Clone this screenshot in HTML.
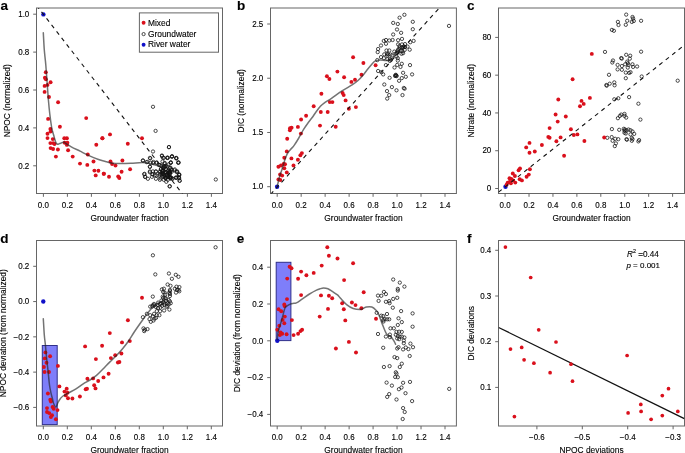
<!DOCTYPE html><html><head><meta charset="utf-8"><style>html,body{margin:0;padding:0;background:#fff;width:685px;height:453px;overflow:hidden}svg{display:block;will-change:transform}text{font-family:"Liberation Sans",sans-serif;fill:#000;stroke:#000;stroke-width:0.12px}</style></head><body>
<svg width="685" height="453" viewBox="0 0 685 453">
<rect x="36.5" y="8.0" width="186.00" height="185.50" fill="none" stroke="#666666" stroke-width="1.0"/>
<line x1="43.40" y1="193.5" x2="43.40" y2="196.80" stroke="#666666" stroke-width="1.0"/>
<text transform="translate(43.40,207.60) scale(1,1.07)" text-anchor="middle" font-size="8.0" >0.0</text>
<line x1="67.40" y1="193.5" x2="67.40" y2="196.80" stroke="#666666" stroke-width="1.0"/>
<text transform="translate(67.40,207.60) scale(1,1.07)" text-anchor="middle" font-size="8.0" >0.2</text>
<line x1="91.40" y1="193.5" x2="91.40" y2="196.80" stroke="#666666" stroke-width="1.0"/>
<text transform="translate(91.40,207.60) scale(1,1.07)" text-anchor="middle" font-size="8.0" >0.4</text>
<line x1="115.40" y1="193.5" x2="115.40" y2="196.80" stroke="#666666" stroke-width="1.0"/>
<text transform="translate(115.40,207.60) scale(1,1.07)" text-anchor="middle" font-size="8.0" >0.6</text>
<line x1="139.40" y1="193.5" x2="139.40" y2="196.80" stroke="#666666" stroke-width="1.0"/>
<text transform="translate(139.40,207.60) scale(1,1.07)" text-anchor="middle" font-size="8.0" >0.8</text>
<line x1="163.40" y1="193.5" x2="163.40" y2="196.80" stroke="#666666" stroke-width="1.0"/>
<text transform="translate(163.40,207.60) scale(1,1.07)" text-anchor="middle" font-size="8.0" >1.0</text>
<line x1="187.40" y1="193.5" x2="187.40" y2="196.80" stroke="#666666" stroke-width="1.0"/>
<text transform="translate(187.40,207.60) scale(1,1.07)" text-anchor="middle" font-size="8.0" >1.2</text>
<line x1="211.40" y1="193.5" x2="211.40" y2="196.80" stroke="#666666" stroke-width="1.0"/>
<text transform="translate(211.40,207.60) scale(1,1.07)" text-anchor="middle" font-size="8.0" >1.4</text>
<line x1="33.20" y1="165.80" x2="36.5" y2="165.80" stroke="#666666" stroke-width="1.0"/>
<text transform="translate(29.30,168.55) scale(1,1.07)" text-anchor="end" font-size="8.0" >0.2</text>
<line x1="33.20" y1="127.90" x2="36.5" y2="127.90" stroke="#666666" stroke-width="1.0"/>
<text transform="translate(29.30,130.65) scale(1,1.07)" text-anchor="end" font-size="8.0" >0.4</text>
<line x1="33.20" y1="90.00" x2="36.5" y2="90.00" stroke="#666666" stroke-width="1.0"/>
<text transform="translate(29.30,92.75) scale(1,1.07)" text-anchor="end" font-size="8.0" >0.6</text>
<line x1="33.20" y1="52.10" x2="36.5" y2="52.10" stroke="#666666" stroke-width="1.0"/>
<text transform="translate(29.30,54.85) scale(1,1.07)" text-anchor="end" font-size="8.0" >0.8</text>
<line x1="33.20" y1="14.20" x2="36.5" y2="14.20" stroke="#666666" stroke-width="1.0"/>
<text transform="translate(29.30,16.95) scale(1,1.07)" text-anchor="end" font-size="8.0" >1.0</text>
<text x="129.50" y="220.80" text-anchor="middle" font-size="8.4" >Groundwater fraction</text>
<text transform="translate(9.60,100.75) rotate(-90)" text-anchor="middle" font-size="8.4">NPOC (normalized)</text>
<text x="0.5" y="9.7" font-size="13.5" font-weight="bold" fill="#000">a</text>
<rect x="270.5" y="8.0" width="185.90" height="185.50" fill="none" stroke="#666666" stroke-width="1.0"/>
<line x1="277.20" y1="193.5" x2="277.20" y2="196.80" stroke="#666666" stroke-width="1.0"/>
<text transform="translate(277.20,207.60) scale(1,1.07)" text-anchor="middle" font-size="8.0" >0.0</text>
<line x1="301.17" y1="193.5" x2="301.17" y2="196.80" stroke="#666666" stroke-width="1.0"/>
<text transform="translate(301.17,207.60) scale(1,1.07)" text-anchor="middle" font-size="8.0" >0.2</text>
<line x1="325.14" y1="193.5" x2="325.14" y2="196.80" stroke="#666666" stroke-width="1.0"/>
<text transform="translate(325.14,207.60) scale(1,1.07)" text-anchor="middle" font-size="8.0" >0.4</text>
<line x1="349.11" y1="193.5" x2="349.11" y2="196.80" stroke="#666666" stroke-width="1.0"/>
<text transform="translate(349.11,207.60) scale(1,1.07)" text-anchor="middle" font-size="8.0" >0.6</text>
<line x1="373.09" y1="193.5" x2="373.09" y2="196.80" stroke="#666666" stroke-width="1.0"/>
<text transform="translate(373.09,207.60) scale(1,1.07)" text-anchor="middle" font-size="8.0" >0.8</text>
<line x1="397.06" y1="193.5" x2="397.06" y2="196.80" stroke="#666666" stroke-width="1.0"/>
<text transform="translate(397.06,207.60) scale(1,1.07)" text-anchor="middle" font-size="8.0" >1.0</text>
<line x1="421.03" y1="193.5" x2="421.03" y2="196.80" stroke="#666666" stroke-width="1.0"/>
<text transform="translate(421.03,207.60) scale(1,1.07)" text-anchor="middle" font-size="8.0" >1.2</text>
<line x1="445.00" y1="193.5" x2="445.00" y2="196.80" stroke="#666666" stroke-width="1.0"/>
<text transform="translate(445.00,207.60) scale(1,1.07)" text-anchor="middle" font-size="8.0" >1.4</text>
<line x1="267.20" y1="186.70" x2="270.5" y2="186.70" stroke="#666666" stroke-width="1.0"/>
<text transform="translate(263.30,189.45) scale(1,1.07)" text-anchor="end" font-size="8.0" >1.0</text>
<line x1="267.20" y1="132.47" x2="270.5" y2="132.47" stroke="#666666" stroke-width="1.0"/>
<text transform="translate(263.30,135.22) scale(1,1.07)" text-anchor="end" font-size="8.0" >1.5</text>
<line x1="267.20" y1="78.23" x2="270.5" y2="78.23" stroke="#666666" stroke-width="1.0"/>
<text transform="translate(263.30,80.98) scale(1,1.07)" text-anchor="end" font-size="8.0" >2.0</text>
<line x1="267.20" y1="24.00" x2="270.5" y2="24.00" stroke="#666666" stroke-width="1.0"/>
<text transform="translate(263.30,26.75) scale(1,1.07)" text-anchor="end" font-size="8.0" >2.5</text>
<text x="363.45" y="220.80" text-anchor="middle" font-size="8.4" >Groundwater fraction</text>
<text transform="translate(243.60,100.75) rotate(-90)" text-anchor="middle" font-size="8.4">DIC (normalized)</text>
<text x="236.9" y="9.7" font-size="13.5" font-weight="bold" fill="#000">b</text>
<rect x="498.5" y="8.0" width="186.00" height="185.50" fill="none" stroke="#666666" stroke-width="1.0"/>
<line x1="505.10" y1="193.5" x2="505.10" y2="196.80" stroke="#666666" stroke-width="1.0"/>
<text transform="translate(505.10,207.60) scale(1,1.07)" text-anchor="middle" font-size="8.0" >0.0</text>
<line x1="529.03" y1="193.5" x2="529.03" y2="196.80" stroke="#666666" stroke-width="1.0"/>
<text transform="translate(529.03,207.60) scale(1,1.07)" text-anchor="middle" font-size="8.0" >0.2</text>
<line x1="552.96" y1="193.5" x2="552.96" y2="196.80" stroke="#666666" stroke-width="1.0"/>
<text transform="translate(552.96,207.60) scale(1,1.07)" text-anchor="middle" font-size="8.0" >0.4</text>
<line x1="576.89" y1="193.5" x2="576.89" y2="196.80" stroke="#666666" stroke-width="1.0"/>
<text transform="translate(576.89,207.60) scale(1,1.07)" text-anchor="middle" font-size="8.0" >0.6</text>
<line x1="600.81" y1="193.5" x2="600.81" y2="196.80" stroke="#666666" stroke-width="1.0"/>
<text transform="translate(600.81,207.60) scale(1,1.07)" text-anchor="middle" font-size="8.0" >0.8</text>
<line x1="624.74" y1="193.5" x2="624.74" y2="196.80" stroke="#666666" stroke-width="1.0"/>
<text transform="translate(624.74,207.60) scale(1,1.07)" text-anchor="middle" font-size="8.0" >1.0</text>
<line x1="648.67" y1="193.5" x2="648.67" y2="196.80" stroke="#666666" stroke-width="1.0"/>
<text transform="translate(648.67,207.60) scale(1,1.07)" text-anchor="middle" font-size="8.0" >1.2</text>
<line x1="672.60" y1="193.5" x2="672.60" y2="196.80" stroke="#666666" stroke-width="1.0"/>
<text transform="translate(672.60,207.60) scale(1,1.07)" text-anchor="middle" font-size="8.0" >1.4</text>
<line x1="495.20" y1="188.50" x2="498.5" y2="188.50" stroke="#666666" stroke-width="1.0"/>
<text transform="translate(491.30,191.25) scale(1,1.07)" text-anchor="end" font-size="8.0" >0</text>
<line x1="495.20" y1="150.72" x2="498.5" y2="150.72" stroke="#666666" stroke-width="1.0"/>
<text transform="translate(491.30,153.47) scale(1,1.07)" text-anchor="end" font-size="8.0" >20</text>
<line x1="495.20" y1="112.95" x2="498.5" y2="112.95" stroke="#666666" stroke-width="1.0"/>
<text transform="translate(491.30,115.70) scale(1,1.07)" text-anchor="end" font-size="8.0" >40</text>
<line x1="495.20" y1="75.17" x2="498.5" y2="75.17" stroke="#666666" stroke-width="1.0"/>
<text transform="translate(491.30,77.92) scale(1,1.07)" text-anchor="end" font-size="8.0" >60</text>
<line x1="495.20" y1="37.40" x2="498.5" y2="37.40" stroke="#666666" stroke-width="1.0"/>
<text transform="translate(491.30,40.15) scale(1,1.07)" text-anchor="end" font-size="8.0" >80</text>
<text x="591.50" y="220.80" text-anchor="middle" font-size="8.4" >Groundwater fraction</text>
<text transform="translate(473.70,100.75) rotate(-90)" text-anchor="middle" font-size="8.4">Nitrate (normalized)</text>
<text x="467.1" y="9.7" font-size="13.5" font-weight="bold" fill="#000">c</text>
<rect x="36.5" y="240.5" width="186.00" height="185.50" fill="none" stroke="#666666" stroke-width="1.0"/>
<line x1="43.30" y1="426.0" x2="43.30" y2="429.30" stroke="#666666" stroke-width="1.0"/>
<text transform="translate(43.30,439.70) scale(1,1.07)" text-anchor="middle" font-size="8.0" >0.0</text>
<line x1="67.30" y1="426.0" x2="67.30" y2="429.30" stroke="#666666" stroke-width="1.0"/>
<text transform="translate(67.30,439.70) scale(1,1.07)" text-anchor="middle" font-size="8.0" >0.2</text>
<line x1="91.30" y1="426.0" x2="91.30" y2="429.30" stroke="#666666" stroke-width="1.0"/>
<text transform="translate(91.30,439.70) scale(1,1.07)" text-anchor="middle" font-size="8.0" >0.4</text>
<line x1="115.30" y1="426.0" x2="115.30" y2="429.30" stroke="#666666" stroke-width="1.0"/>
<text transform="translate(115.30,439.70) scale(1,1.07)" text-anchor="middle" font-size="8.0" >0.6</text>
<line x1="139.30" y1="426.0" x2="139.30" y2="429.30" stroke="#666666" stroke-width="1.0"/>
<text transform="translate(139.30,439.70) scale(1,1.07)" text-anchor="middle" font-size="8.0" >0.8</text>
<line x1="163.30" y1="426.0" x2="163.30" y2="429.30" stroke="#666666" stroke-width="1.0"/>
<text transform="translate(163.30,439.70) scale(1,1.07)" text-anchor="middle" font-size="8.0" >1.0</text>
<line x1="187.30" y1="426.0" x2="187.30" y2="429.30" stroke="#666666" stroke-width="1.0"/>
<text transform="translate(187.30,439.70) scale(1,1.07)" text-anchor="middle" font-size="8.0" >1.2</text>
<line x1="211.30" y1="426.0" x2="211.30" y2="429.30" stroke="#666666" stroke-width="1.0"/>
<text transform="translate(211.30,439.70) scale(1,1.07)" text-anchor="middle" font-size="8.0" >1.4</text>
<line x1="33.20" y1="266.30" x2="36.5" y2="266.30" stroke="#666666" stroke-width="1.0"/>
<text transform="translate(29.30,269.05) scale(1,1.07)" text-anchor="end" font-size="8.0" >0.2</text>
<line x1="33.20" y1="301.57" x2="36.5" y2="301.57" stroke="#666666" stroke-width="1.0"/>
<text transform="translate(29.30,304.32) scale(1,1.07)" text-anchor="end" font-size="8.0" >0.0</text>
<line x1="33.20" y1="336.85" x2="36.5" y2="336.85" stroke="#666666" stroke-width="1.0"/>
<text transform="translate(29.30,339.60) scale(1,1.07)" text-anchor="end" font-size="8.0" >−0.2</text>
<line x1="33.20" y1="372.12" x2="36.5" y2="372.12" stroke="#666666" stroke-width="1.0"/>
<text transform="translate(29.30,374.88) scale(1,1.07)" text-anchor="end" font-size="8.0" >−0.4</text>
<line x1="33.20" y1="407.40" x2="36.5" y2="407.40" stroke="#666666" stroke-width="1.0"/>
<text transform="translate(29.30,410.15) scale(1,1.07)" text-anchor="end" font-size="8.0" >−0.6</text>
<text x="129.50" y="452.90" text-anchor="middle" font-size="8.4" >Groundwater fraction</text>
<text transform="translate(5.80,333.25) rotate(-90)" text-anchor="middle" font-size="8.4">NPOC deviation (from normalized)</text>
<text x="0.35" y="242.5" font-size="13.5" font-weight="bold" fill="#000">d</text>
<rect x="270.5" y="240.5" width="185.90" height="185.50" fill="none" stroke="#666666" stroke-width="1.0"/>
<line x1="277.20" y1="426.0" x2="277.20" y2="429.30" stroke="#666666" stroke-width="1.0"/>
<text transform="translate(277.20,439.70) scale(1,1.07)" text-anchor="middle" font-size="8.0" >0.0</text>
<line x1="301.17" y1="426.0" x2="301.17" y2="429.30" stroke="#666666" stroke-width="1.0"/>
<text transform="translate(301.17,439.70) scale(1,1.07)" text-anchor="middle" font-size="8.0" >0.2</text>
<line x1="325.14" y1="426.0" x2="325.14" y2="429.30" stroke="#666666" stroke-width="1.0"/>
<text transform="translate(325.14,439.70) scale(1,1.07)" text-anchor="middle" font-size="8.0" >0.4</text>
<line x1="349.11" y1="426.0" x2="349.11" y2="429.30" stroke="#666666" stroke-width="1.0"/>
<text transform="translate(349.11,439.70) scale(1,1.07)" text-anchor="middle" font-size="8.0" >0.6</text>
<line x1="373.09" y1="426.0" x2="373.09" y2="429.30" stroke="#666666" stroke-width="1.0"/>
<text transform="translate(373.09,439.70) scale(1,1.07)" text-anchor="middle" font-size="8.0" >0.8</text>
<line x1="397.06" y1="426.0" x2="397.06" y2="429.30" stroke="#666666" stroke-width="1.0"/>
<text transform="translate(397.06,439.70) scale(1,1.07)" text-anchor="middle" font-size="8.0" >1.0</text>
<line x1="421.03" y1="426.0" x2="421.03" y2="429.30" stroke="#666666" stroke-width="1.0"/>
<text transform="translate(421.03,439.70) scale(1,1.07)" text-anchor="middle" font-size="8.0" >1.2</text>
<line x1="445.00" y1="426.0" x2="445.00" y2="429.30" stroke="#666666" stroke-width="1.0"/>
<text transform="translate(445.00,439.70) scale(1,1.07)" text-anchor="middle" font-size="8.0" >1.4</text>
<line x1="267.20" y1="267.20" x2="270.5" y2="267.20" stroke="#666666" stroke-width="1.0"/>
<text transform="translate(263.30,269.95) scale(1,1.07)" text-anchor="end" font-size="8.0" >0.4</text>
<line x1="267.20" y1="304.00" x2="270.5" y2="304.00" stroke="#666666" stroke-width="1.0"/>
<text transform="translate(263.30,306.75) scale(1,1.07)" text-anchor="end" font-size="8.0" >0.2</text>
<line x1="267.20" y1="340.80" x2="270.5" y2="340.80" stroke="#666666" stroke-width="1.0"/>
<text transform="translate(263.30,343.55) scale(1,1.07)" text-anchor="end" font-size="8.0" >0.0</text>
<line x1="267.20" y1="377.60" x2="270.5" y2="377.60" stroke="#666666" stroke-width="1.0"/>
<text transform="translate(263.30,380.35) scale(1,1.07)" text-anchor="end" font-size="8.0" >−0.2</text>
<line x1="267.20" y1="414.40" x2="270.5" y2="414.40" stroke="#666666" stroke-width="1.0"/>
<text transform="translate(263.30,417.15) scale(1,1.07)" text-anchor="end" font-size="8.0" >−0.4</text>
<text x="363.45" y="452.90" text-anchor="middle" font-size="8.4" >Groundwater fraction</text>
<text transform="translate(240.00,333.25) rotate(-90)" text-anchor="middle" font-size="8.4">DIC deviation (from normalized)</text>
<text x="236.7" y="242.5" font-size="13.5" font-weight="bold" fill="#000">e</text>
<rect x="498.5" y="240.5" width="186.00" height="185.50" fill="none" stroke="#666666" stroke-width="1.0"/>
<line x1="536.90" y1="426.0" x2="536.90" y2="429.30" stroke="#666666" stroke-width="1.0"/>
<text transform="translate(536.90,439.70) scale(1,1.07)" text-anchor="middle" font-size="8.0" >−0.6</text>
<line x1="582.30" y1="426.0" x2="582.30" y2="429.30" stroke="#666666" stroke-width="1.0"/>
<text transform="translate(582.30,439.70) scale(1,1.07)" text-anchor="middle" font-size="8.0" >−0.5</text>
<line x1="627.70" y1="426.0" x2="627.70" y2="429.30" stroke="#666666" stroke-width="1.0"/>
<text transform="translate(627.70,439.70) scale(1,1.07)" text-anchor="middle" font-size="8.0" >−0.4</text>
<line x1="673.10" y1="426.0" x2="673.10" y2="429.30" stroke="#666666" stroke-width="1.0"/>
<text transform="translate(673.10,439.70) scale(1,1.07)" text-anchor="middle" font-size="8.0" >−0.3</text>
<line x1="495.20" y1="387.40" x2="498.5" y2="387.40" stroke="#666666" stroke-width="1.0"/>
<text transform="translate(491.30,390.15) scale(1,1.07)" text-anchor="end" font-size="8.0" >0.1</text>
<line x1="495.20" y1="341.70" x2="498.5" y2="341.70" stroke="#666666" stroke-width="1.0"/>
<text transform="translate(491.30,344.45) scale(1,1.07)" text-anchor="end" font-size="8.0" >0.2</text>
<line x1="495.20" y1="296.00" x2="498.5" y2="296.00" stroke="#666666" stroke-width="1.0"/>
<text transform="translate(491.30,298.75) scale(1,1.07)" text-anchor="end" font-size="8.0" >0.3</text>
<line x1="495.20" y1="250.30" x2="498.5" y2="250.30" stroke="#666666" stroke-width="1.0"/>
<text transform="translate(491.30,253.05) scale(1,1.07)" text-anchor="end" font-size="8.0" >0.4</text>
<text x="591.50" y="452.90" text-anchor="middle" font-size="8.4" >NPOC deviations</text>
<text transform="translate(473.80,333.25) rotate(-90)" text-anchor="middle" font-size="8.4">DIC deviations</text>
<text x="467.1" y="242.5" font-size="13.5" font-weight="bold" fill="#000">f</text>
<clipPath id="ca"><rect x="36.5" y="8.0" width="186.0" height="185.5"/></clipPath>
<g clip-path="url(#ca)">
<circle cx="153.0" cy="106.8" r="1.65" fill="none" stroke="#111" stroke-width="0.75"/>
<circle cx="155.6" cy="130.9" r="1.65" fill="none" stroke="#111" stroke-width="0.75"/>
<circle cx="168.9" cy="147.2" r="1.65" fill="none" stroke="#111" stroke-width="0.75"/>
<circle cx="153.0" cy="151.5" r="1.65" fill="none" stroke="#111" stroke-width="0.75"/>
<circle cx="161.9" cy="155.5" r="1.65" fill="none" stroke="#111" stroke-width="0.75"/>
<circle cx="162.8" cy="157.7" r="1.65" fill="none" stroke="#111" stroke-width="0.75"/>
<circle cx="167.2" cy="157.7" r="1.65" fill="none" stroke="#111" stroke-width="0.75"/>
<circle cx="172.1" cy="156.2" r="1.65" fill="none" stroke="#111" stroke-width="0.75"/>
<circle cx="176.4" cy="158.4" r="1.65" fill="none" stroke="#111" stroke-width="0.75"/>
<circle cx="178.4" cy="162.6" r="1.65" fill="none" stroke="#111" stroke-width="0.75"/>
<circle cx="170.7" cy="162.6" r="1.65" fill="none" stroke="#111" stroke-width="0.75"/>
<circle cx="142.9" cy="160.4" r="1.65" fill="none" stroke="#111" stroke-width="0.75"/>
<circle cx="146.6" cy="162.1" r="1.65" fill="none" stroke="#111" stroke-width="0.75"/>
<circle cx="150.3" cy="158.4" r="1.65" fill="none" stroke="#111" stroke-width="0.75"/>
<circle cx="149.9" cy="166.6" r="1.65" fill="none" stroke="#111" stroke-width="0.75"/>
<circle cx="153.2" cy="163.0" r="1.65" fill="none" stroke="#111" stroke-width="0.75"/>
<circle cx="156.6" cy="162.4" r="1.65" fill="none" stroke="#111" stroke-width="0.75"/>
<circle cx="159.9" cy="165.0" r="1.65" fill="none" stroke="#111" stroke-width="0.75"/>
<circle cx="164.5" cy="163.7" r="1.65" fill="none" stroke="#111" stroke-width="0.75"/>
<circle cx="165.2" cy="167.0" r="1.65" fill="none" stroke="#111" stroke-width="0.75"/>
<circle cx="163.2" cy="170.3" r="1.65" fill="none" stroke="#111" stroke-width="0.75"/>
<circle cx="166.5" cy="172.3" r="1.65" fill="none" stroke="#111" stroke-width="0.75"/>
<circle cx="170.5" cy="167.7" r="1.65" fill="none" stroke="#111" stroke-width="0.75"/>
<circle cx="171.8" cy="171.7" r="1.65" fill="none" stroke="#111" stroke-width="0.75"/>
<circle cx="174.4" cy="170.3" r="1.65" fill="none" stroke="#111" stroke-width="0.75"/>
<circle cx="177.1" cy="172.3" r="1.65" fill="none" stroke="#111" stroke-width="0.75"/>
<circle cx="179.1" cy="175.0" r="1.65" fill="none" stroke="#111" stroke-width="0.75"/>
<circle cx="175.8" cy="177.6" r="1.65" fill="none" stroke="#111" stroke-width="0.75"/>
<circle cx="179.1" cy="178.3" r="1.65" fill="none" stroke="#111" stroke-width="0.75"/>
<circle cx="144.2" cy="174.3" r="1.65" fill="none" stroke="#111" stroke-width="0.75"/>
<circle cx="145.3" cy="177.0" r="1.65" fill="none" stroke="#111" stroke-width="0.75"/>
<circle cx="149.9" cy="172.3" r="1.65" fill="none" stroke="#111" stroke-width="0.75"/>
<circle cx="152.6" cy="174.3" r="1.65" fill="none" stroke="#111" stroke-width="0.75"/>
<circle cx="155.9" cy="171.7" r="1.65" fill="none" stroke="#111" stroke-width="0.75"/>
<circle cx="156.6" cy="175.6" r="1.65" fill="none" stroke="#111" stroke-width="0.75"/>
<circle cx="159.9" cy="174.3" r="1.65" fill="none" stroke="#111" stroke-width="0.75"/>
<circle cx="160.5" cy="178.3" r="1.65" fill="none" stroke="#111" stroke-width="0.75"/>
<circle cx="168.5" cy="175.6" r="1.65" fill="none" stroke="#111" stroke-width="0.75"/>
<circle cx="170.5" cy="178.3" r="1.65" fill="none" stroke="#111" stroke-width="0.75"/>
<circle cx="162.0" cy="156.0" r="1.65" fill="none" stroke="#111" stroke-width="0.75"/>
<circle cx="163.8" cy="157.9" r="1.65" fill="none" stroke="#111" stroke-width="0.75"/>
<circle cx="167.8" cy="157.7" r="1.65" fill="none" stroke="#111" stroke-width="0.75"/>
<circle cx="171.8" cy="156.8" r="1.65" fill="none" stroke="#111" stroke-width="0.75"/>
<circle cx="176.2" cy="157.9" r="1.65" fill="none" stroke="#111" stroke-width="0.75"/>
<circle cx="178.2" cy="162.7" r="1.65" fill="none" stroke="#111" stroke-width="0.75"/>
<circle cx="170.8" cy="162.7" r="1.65" fill="none" stroke="#111" stroke-width="0.75"/>
<circle cx="143.0" cy="160.7" r="1.65" fill="none" stroke="#111" stroke-width="0.75"/>
<circle cx="147.4" cy="161.9" r="1.65" fill="none" stroke="#111" stroke-width="0.75"/>
<circle cx="149.9" cy="157.9" r="1.65" fill="none" stroke="#111" stroke-width="0.75"/>
<circle cx="150.4" cy="162.9" r="1.65" fill="none" stroke="#111" stroke-width="0.75"/>
<circle cx="149.9" cy="166.9" r="1.65" fill="none" stroke="#111" stroke-width="0.75"/>
<circle cx="153.4" cy="161.9" r="1.65" fill="none" stroke="#111" stroke-width="0.75"/>
<circle cx="156.4" cy="162.9" r="1.65" fill="none" stroke="#111" stroke-width="0.75"/>
<circle cx="158.9" cy="164.9" r="1.65" fill="none" stroke="#111" stroke-width="0.75"/>
<circle cx="164.8" cy="162.9" r="1.65" fill="none" stroke="#111" stroke-width="0.75"/>
<circle cx="165.8" cy="165.9" r="1.65" fill="none" stroke="#111" stroke-width="0.75"/>
<circle cx="163.3" cy="167.9" r="1.65" fill="none" stroke="#111" stroke-width="0.75"/>
<circle cx="169.8" cy="167.9" r="1.65" fill="none" stroke="#111" stroke-width="0.75"/>
<circle cx="171.8" cy="169.9" r="1.65" fill="none" stroke="#111" stroke-width="0.75"/>
<circle cx="174.8" cy="169.4" r="1.65" fill="none" stroke="#111" stroke-width="0.75"/>
<circle cx="177.2" cy="171.4" r="1.65" fill="none" stroke="#111" stroke-width="0.75"/>
<circle cx="179.2" cy="174.3" r="1.65" fill="none" stroke="#111" stroke-width="0.75"/>
<circle cx="178.7" cy="177.3" r="1.65" fill="none" stroke="#111" stroke-width="0.75"/>
<circle cx="176.2" cy="177.8" r="1.65" fill="none" stroke="#111" stroke-width="0.75"/>
<circle cx="179.7" cy="180.8" r="1.65" fill="none" stroke="#111" stroke-width="0.75"/>
<circle cx="169.8" cy="173.8" r="1.65" fill="none" stroke="#111" stroke-width="0.75"/>
<circle cx="170.8" cy="177.8" r="1.65" fill="none" stroke="#111" stroke-width="0.75"/>
<circle cx="167.8" cy="179.8" r="1.65" fill="none" stroke="#111" stroke-width="0.75"/>
<circle cx="166.3" cy="181.8" r="1.65" fill="none" stroke="#111" stroke-width="0.75"/>
<circle cx="163.8" cy="179.8" r="1.65" fill="none" stroke="#111" stroke-width="0.75"/>
<circle cx="159.9" cy="179.8" r="1.65" fill="none" stroke="#111" stroke-width="0.75"/>
<circle cx="155.9" cy="178.8" r="1.65" fill="none" stroke="#111" stroke-width="0.75"/>
<circle cx="151.9" cy="176.8" r="1.65" fill="none" stroke="#111" stroke-width="0.75"/>
<circle cx="147.9" cy="178.8" r="1.65" fill="none" stroke="#111" stroke-width="0.75"/>
<circle cx="145.0" cy="176.8" r="1.65" fill="none" stroke="#111" stroke-width="0.75"/>
<circle cx="144.5" cy="173.8" r="1.65" fill="none" stroke="#111" stroke-width="0.75"/>
<circle cx="149.9" cy="171.4" r="1.65" fill="none" stroke="#111" stroke-width="0.75"/>
<circle cx="152.9" cy="171.4" r="1.65" fill="none" stroke="#111" stroke-width="0.75"/>
<circle cx="155.9" cy="171.4" r="1.65" fill="none" stroke="#111" stroke-width="0.75"/>
<circle cx="159.9" cy="171.8" r="1.65" fill="none" stroke="#111" stroke-width="0.75"/>
<circle cx="162.8" cy="172.8" r="1.65" fill="none" stroke="#111" stroke-width="0.75"/>
<circle cx="164.8" cy="174.8" r="1.65" fill="none" stroke="#111" stroke-width="0.75"/>
<circle cx="166.8" cy="176.8" r="1.65" fill="none" stroke="#111" stroke-width="0.75"/>
<circle cx="162.3" cy="176.8" r="1.65" fill="none" stroke="#111" stroke-width="0.75"/>
<circle cx="159.4" cy="175.8" r="1.65" fill="none" stroke="#111" stroke-width="0.75"/>
<circle cx="154.9" cy="175.3" r="1.65" fill="none" stroke="#111" stroke-width="0.75"/>
<circle cx="152.4" cy="174.3" r="1.65" fill="none" stroke="#111" stroke-width="0.75"/>
<circle cx="169.8" cy="186.2" r="1.65" fill="none" stroke="#111" stroke-width="0.75"/>
<circle cx="169.0" cy="147.0" r="1.65" fill="none" stroke="#111" stroke-width="0.75"/>
<circle cx="167.4" cy="158.0" r="1.65" fill="none" stroke="#111" stroke-width="0.75"/>
<circle cx="172.0" cy="156.4" r="1.65" fill="none" stroke="#111" stroke-width="0.75"/>
<circle cx="176.2" cy="158.2" r="1.65" fill="none" stroke="#111" stroke-width="0.75"/>
<circle cx="170.8" cy="162.5" r="1.65" fill="none" stroke="#111" stroke-width="0.75"/>
<circle cx="178.6" cy="162.5" r="1.65" fill="none" stroke="#111" stroke-width="0.75"/>
<circle cx="176.5" cy="171.6" r="1.65" fill="none" stroke="#111" stroke-width="0.75"/>
<circle cx="179.3" cy="175.0" r="1.65" fill="none" stroke="#111" stroke-width="0.75"/>
<circle cx="176.5" cy="177.7" r="1.65" fill="none" stroke="#111" stroke-width="0.75"/>
<circle cx="179.6" cy="180.7" r="1.65" fill="none" stroke="#111" stroke-width="0.75"/>
<circle cx="179.0" cy="177.7" r="1.65" fill="none" stroke="#111" stroke-width="0.75"/>
<circle cx="169.6" cy="186.4" r="1.65" fill="none" stroke="#111" stroke-width="0.75"/>
<circle cx="215.8" cy="179.5" r="1.65" fill="none" stroke="#111" stroke-width="0.75"/>
<circle cx="171.1" cy="169.2" r="1.65" fill="none" stroke="#111" stroke-width="0.75"/>
<circle cx="169.9" cy="172.8" r="1.65" fill="none" stroke="#111" stroke-width="0.75"/>
<circle cx="164.0" cy="166.0" r="1.65" fill="none" stroke="#111" stroke-width="0.75"/>
<circle cx="166.0" cy="169.0" r="1.65" fill="none" stroke="#111" stroke-width="0.75"/>
<circle cx="168.0" cy="171.0" r="1.65" fill="none" stroke="#111" stroke-width="0.75"/>
<circle cx="165.0" cy="173.0" r="1.65" fill="none" stroke="#111" stroke-width="0.75"/>
<circle cx="167.0" cy="175.0" r="1.65" fill="none" stroke="#111" stroke-width="0.75"/>
<circle cx="163.0" cy="174.0" r="1.65" fill="none" stroke="#111" stroke-width="0.75"/>
<circle cx="161.0" cy="169.0" r="1.65" fill="none" stroke="#111" stroke-width="0.75"/>
<circle cx="167.5" cy="166.5" r="1.65" fill="none" stroke="#111" stroke-width="0.75"/>
<circle cx="162.5" cy="161.5" r="1.65" fill="none" stroke="#111" stroke-width="0.75"/>
<circle cx="168.5" cy="164.5" r="1.65" fill="none" stroke="#111" stroke-width="0.75"/>
<circle cx="160.8" cy="169.3" r="1.65" fill="none" stroke="#111" stroke-width="0.75"/>
<circle cx="162.4" cy="171.5" r="1.65" fill="none" stroke="#111" stroke-width="0.75"/>
<circle cx="169.5" cy="171.3" r="1.65" fill="none" stroke="#111" stroke-width="0.75"/>
<circle cx="163.0" cy="167.5" r="1.65" fill="none" stroke="#111" stroke-width="0.75"/>
<circle cx="172.5" cy="178.9" r="1.65" fill="none" stroke="#111" stroke-width="0.75"/>
<circle cx="170.1" cy="176.8" r="1.65" fill="none" stroke="#111" stroke-width="0.75"/>
<circle cx="169.2" cy="172.0" r="1.65" fill="none" stroke="#111" stroke-width="0.75"/>
<circle cx="164.8" cy="176.8" r="1.65" fill="none" stroke="#111" stroke-width="0.75"/>
<circle cx="163.9" cy="174.4" r="1.65" fill="none" stroke="#111" stroke-width="0.75"/>
<circle cx="170.2" cy="171.9" r="1.65" fill="none" stroke="#111" stroke-width="0.75"/>
<circle cx="168.3" cy="176.6" r="1.65" fill="none" stroke="#111" stroke-width="0.75"/>
<circle cx="170.6" cy="177.2" r="1.65" fill="none" stroke="#111" stroke-width="0.75"/>
<circle cx="166.0" cy="178.0" r="1.65" fill="none" stroke="#111" stroke-width="0.75"/>
<circle cx="165.6" cy="178.2" r="1.65" fill="none" stroke="#111" stroke-width="0.75"/>
<circle cx="161.6" cy="173.1" r="1.65" fill="none" stroke="#111" stroke-width="0.75"/>
<circle cx="161.6" cy="174.7" r="1.65" fill="none" stroke="#111" stroke-width="0.75"/>
<circle cx="161.3" cy="165.7" r="1.65" fill="none" stroke="#111" stroke-width="0.75"/>
<circle cx="172.3" cy="178.3" r="1.65" fill="none" stroke="#111" stroke-width="0.75"/>
<circle cx="168.1" cy="172.9" r="1.65" fill="none" stroke="#111" stroke-width="0.75"/>
<circle cx="165.8" cy="171.8" r="1.65" fill="none" stroke="#111" stroke-width="0.75"/>
<circle cx="162.3" cy="171.1" r="1.65" fill="none" stroke="#111" stroke-width="0.75"/>
<circle cx="163.8" cy="176.3" r="1.65" fill="none" stroke="#111" stroke-width="0.75"/>
<circle cx="165.1" cy="177.8" r="1.65" fill="none" stroke="#111" stroke-width="0.75"/>
<circle cx="169.6" cy="172.5" r="1.65" fill="none" stroke="#111" stroke-width="0.75"/>
<circle cx="170.6" cy="178.4" r="1.65" fill="none" stroke="#111" stroke-width="0.75"/>
<circle cx="169.9" cy="173.4" r="1.65" fill="none" stroke="#111" stroke-width="0.75"/>
<circle cx="169.5" cy="177.4" r="1.65" fill="none" stroke="#111" stroke-width="0.75"/>
<circle cx="164.4" cy="166.7" r="1.65" fill="none" stroke="#111" stroke-width="0.75"/>
<circle cx="165.8" cy="169.0" r="1.65" fill="none" stroke="#111" stroke-width="0.75"/>
<circle cx="160.3" cy="171.5" r="1.65" fill="none" stroke="#111" stroke-width="0.75"/>
<circle cx="43.4" cy="14.4" r="2.2" fill="#1010c8"/>
<circle cx="45.8" cy="72.3" r="1.95" fill="#da101c"/>
<circle cx="44.9" cy="77.8" r="1.95" fill="#da101c"/>
<circle cx="45.9" cy="79.3" r="1.95" fill="#da101c"/>
<circle cx="50.6" cy="82.2" r="1.95" fill="#da101c"/>
<circle cx="44.6" cy="85.9" r="1.95" fill="#da101c"/>
<circle cx="47.5" cy="84.9" r="1.95" fill="#da101c"/>
<circle cx="44.6" cy="91.9" r="1.95" fill="#da101c"/>
<circle cx="49.0" cy="97.0" r="1.95" fill="#da101c"/>
<circle cx="58.1" cy="102.2" r="1.95" fill="#da101c"/>
<circle cx="48.1" cy="118.9" r="1.95" fill="#da101c"/>
<circle cx="86.2" cy="118.1" r="1.95" fill="#da101c"/>
<circle cx="59.9" cy="126.8" r="1.95" fill="#da101c"/>
<circle cx="50.4" cy="129.0" r="1.95" fill="#da101c"/>
<circle cx="50.6" cy="131.6" r="1.95" fill="#da101c"/>
<circle cx="47.5" cy="133.8" r="1.95" fill="#da101c"/>
<circle cx="47.5" cy="138.1" r="1.95" fill="#da101c"/>
<circle cx="52.8" cy="139.1" r="1.95" fill="#da101c"/>
<circle cx="64.3" cy="138.2" r="1.95" fill="#da101c"/>
<circle cx="66.9" cy="138.2" r="1.95" fill="#da101c"/>
<circle cx="50.4" cy="143.1" r="1.95" fill="#da101c"/>
<circle cx="53.2" cy="143.1" r="1.95" fill="#da101c"/>
<circle cx="54.5" cy="144.0" r="1.95" fill="#da101c"/>
<circle cx="64.7" cy="142.7" r="1.95" fill="#da101c"/>
<circle cx="67.4" cy="142.7" r="1.95" fill="#da101c"/>
<circle cx="66.9" cy="144.9" r="1.95" fill="#da101c"/>
<circle cx="50.6" cy="148.1" r="1.95" fill="#da101c"/>
<circle cx="53.1" cy="149.0" r="1.95" fill="#da101c"/>
<circle cx="57.9" cy="149.5" r="1.95" fill="#da101c"/>
<circle cx="68.1" cy="150.2" r="1.95" fill="#da101c"/>
<circle cx="55.9" cy="156.6" r="1.95" fill="#da101c"/>
<circle cx="72.7" cy="156.6" r="1.95" fill="#da101c"/>
<circle cx="87.8" cy="154.5" r="1.95" fill="#da101c"/>
<circle cx="93.5" cy="161.5" r="1.95" fill="#da101c"/>
<circle cx="80.0" cy="163.6" r="1.95" fill="#da101c"/>
<circle cx="87.3" cy="164.9" r="1.95" fill="#da101c"/>
<circle cx="94.4" cy="170.6" r="1.95" fill="#da101c"/>
<circle cx="98.4" cy="170.7" r="1.95" fill="#da101c"/>
<circle cx="95.7" cy="175.4" r="1.95" fill="#da101c"/>
<circle cx="103.7" cy="173.8" r="1.95" fill="#da101c"/>
<circle cx="102.5" cy="138.3" r="1.95" fill="#da101c"/>
<circle cx="96.3" cy="144.8" r="1.95" fill="#da101c"/>
<circle cx="102.3" cy="138.3" r="1.95" fill="#da101c"/>
<circle cx="110.0" cy="134.4" r="1.95" fill="#da101c"/>
<circle cx="127.8" cy="143.7" r="1.95" fill="#da101c"/>
<circle cx="142.0" cy="138.3" r="1.95" fill="#da101c"/>
<circle cx="110.5" cy="161.5" r="1.95" fill="#da101c"/>
<circle cx="112.1" cy="164.1" r="1.95" fill="#da101c"/>
<circle cx="115.5" cy="165.6" r="1.95" fill="#da101c"/>
<circle cx="122.4" cy="160.5" r="1.95" fill="#da101c"/>
<circle cx="130.1" cy="169.2" r="1.95" fill="#da101c"/>
<circle cx="121.6" cy="171.8" r="1.95" fill="#da101c"/>
<circle cx="103.9" cy="173.8" r="1.95" fill="#da101c"/>
<circle cx="109.0" cy="176.8" r="1.95" fill="#da101c"/>
<circle cx="118.2" cy="176.5" r="1.95" fill="#da101c"/>
<circle cx="119.3" cy="178.0" r="1.95" fill="#da101c"/>
<path d="M43.30,32.70 C43.47,35.58 43.88,44.62 44.30,50.00 C44.72,55.38 45.30,59.17 45.80,65.00 C46.30,70.83 46.87,79.17 47.30,85.00 C47.73,90.83 47.98,95.15 48.40,100.00 C48.82,104.85 49.28,109.68 49.80,114.10 C50.32,118.52 51.03,123.60 51.50,126.50 C51.97,129.40 52.23,130.03 52.60,131.50 C52.97,132.97 53.33,134.02 53.70,135.30 C54.07,136.58 54.45,138.02 54.80,139.20 C55.15,140.38 55.50,141.67 55.80,142.40 C56.10,143.13 56.32,143.30 56.60,143.60 C56.88,143.90 57.10,144.15 57.50,144.20 C57.90,144.25 58.47,144.05 59.00,143.90 C59.53,143.75 60.15,143.53 60.70,143.30 C61.25,143.07 61.77,142.72 62.30,142.50 C62.83,142.28 63.38,141.90 63.90,142.00 C64.42,142.10 64.90,142.73 65.40,143.10 C65.90,143.47 65.92,143.58 66.90,144.20 C67.88,144.82 69.10,145.63 71.30,146.80 C73.50,147.97 77.15,149.73 80.10,151.20 C83.05,152.67 86.05,154.27 89.00,155.60 C91.95,156.93 94.87,158.17 97.80,159.20 C100.73,160.23 104.17,161.13 106.60,161.80 C109.03,162.47 110.17,162.90 112.40,163.20 C114.63,163.50 116.92,163.58 120.00,163.60 C123.08,163.62 127.15,163.48 130.90,163.30 C134.65,163.12 139.32,162.47 142.50,162.50 C145.68,162.53 147.42,162.92 150.00,163.50 C152.58,164.08 155.50,165.17 158.00,166.00 C160.50,166.83 163.83,168.08 165.00,168.50" fill="none" stroke="#222" stroke-opacity="0.63" stroke-width="1.5" stroke-linejoin="round" stroke-linecap="round"/>
<line x1="36.5" y1="5.39" x2="200" y2="216.63" stroke="#111" stroke-width="1.1" stroke-dasharray="4.1 4.1"/>
</g>
<rect x="139.4" y="12.9" width="79.1" height="39.3" fill="#fff" stroke="#666666" stroke-width="1.0"/>
<circle cx="143.6" cy="22.8" r="1.95" fill="#da101c"/>
<circle cx="143.6" cy="34.1" r="1.6" fill="none" stroke="#111" stroke-width="0.75"/>
<circle cx="143.6" cy="44.8" r="1.95" fill="#1010c8"/>
<text x="148.00" y="25.80" text-anchor="start" font-size="8.4" >Mixed</text>
<text x="148.00" y="37.10" text-anchor="start" font-size="8.4" >Groundwater</text>
<text x="148.00" y="46.80" text-anchor="start" font-size="8.4" >River water</text>
<clipPath id="cb"><rect x="270.5" y="8.0" width="185.89999999999998" height="185.5"/></clipPath>
<g clip-path="url(#cb)">
<circle cx="378.1" cy="49.0" r="1.65" fill="none" stroke="#111" stroke-width="0.75"/>
<circle cx="377.7" cy="52.1" r="1.65" fill="none" stroke="#111" stroke-width="0.75"/>
<circle cx="377.3" cy="60.1" r="1.65" fill="none" stroke="#111" stroke-width="0.75"/>
<circle cx="378.1" cy="71.0" r="1.65" fill="none" stroke="#111" stroke-width="0.75"/>
<circle cx="404.4" cy="14.8" r="1.65" fill="none" stroke="#111" stroke-width="0.75"/>
<circle cx="399.6" cy="17.7" r="1.65" fill="none" stroke="#111" stroke-width="0.75"/>
<circle cx="393.2" cy="22.9" r="1.65" fill="none" stroke="#111" stroke-width="0.75"/>
<circle cx="397.8" cy="24.0" r="1.65" fill="none" stroke="#111" stroke-width="0.75"/>
<circle cx="412.8" cy="21.8" r="1.65" fill="none" stroke="#111" stroke-width="0.75"/>
<circle cx="397.0" cy="29.5" r="1.65" fill="none" stroke="#111" stroke-width="0.75"/>
<circle cx="401.1" cy="32.8" r="1.65" fill="none" stroke="#111" stroke-width="0.75"/>
<circle cx="412.8" cy="29.2" r="1.65" fill="none" stroke="#111" stroke-width="0.75"/>
<circle cx="393.2" cy="34.5" r="1.65" fill="none" stroke="#111" stroke-width="0.75"/>
<circle cx="402.0" cy="38.9" r="1.65" fill="none" stroke="#111" stroke-width="0.75"/>
<circle cx="398.1" cy="40.2" r="1.65" fill="none" stroke="#111" stroke-width="0.75"/>
<circle cx="392.6" cy="40.0" r="1.65" fill="none" stroke="#111" stroke-width="0.75"/>
<circle cx="389.3" cy="40.5" r="1.65" fill="none" stroke="#111" stroke-width="0.75"/>
<circle cx="386.0" cy="40.0" r="1.65" fill="none" stroke="#111" stroke-width="0.75"/>
<circle cx="383.8" cy="40.9" r="1.65" fill="none" stroke="#111" stroke-width="0.75"/>
<circle cx="386.0" cy="43.8" r="1.65" fill="none" stroke="#111" stroke-width="0.75"/>
<circle cx="381.0" cy="45.5" r="1.65" fill="none" stroke="#111" stroke-width="0.75"/>
<circle cx="413.6" cy="40.9" r="1.65" fill="none" stroke="#111" stroke-width="0.75"/>
<circle cx="410.3" cy="42.2" r="1.65" fill="none" stroke="#111" stroke-width="0.75"/>
<circle cx="409.7" cy="49.7" r="1.65" fill="none" stroke="#111" stroke-width="0.75"/>
<circle cx="407.5" cy="46.6" r="1.65" fill="none" stroke="#111" stroke-width="0.75"/>
<circle cx="398.1" cy="44.4" r="1.65" fill="none" stroke="#111" stroke-width="0.75"/>
<circle cx="402.0" cy="44.4" r="1.65" fill="none" stroke="#111" stroke-width="0.75"/>
<circle cx="399.8" cy="47.7" r="1.65" fill="none" stroke="#111" stroke-width="0.75"/>
<circle cx="403.1" cy="47.7" r="1.65" fill="none" stroke="#111" stroke-width="0.75"/>
<circle cx="404.7" cy="49.9" r="1.65" fill="none" stroke="#111" stroke-width="0.75"/>
<circle cx="400.9" cy="50.5" r="1.65" fill="none" stroke="#111" stroke-width="0.75"/>
<circle cx="397.6" cy="51.6" r="1.65" fill="none" stroke="#111" stroke-width="0.75"/>
<circle cx="394.3" cy="51.6" r="1.65" fill="none" stroke="#111" stroke-width="0.75"/>
<circle cx="389.3" cy="50.5" r="1.65" fill="none" stroke="#111" stroke-width="0.75"/>
<circle cx="386.5" cy="50.5" r="1.65" fill="none" stroke="#111" stroke-width="0.75"/>
<circle cx="384.3" cy="54.3" r="1.65" fill="none" stroke="#111" stroke-width="0.75"/>
<circle cx="388.2" cy="54.3" r="1.65" fill="none" stroke="#111" stroke-width="0.75"/>
<circle cx="381.0" cy="57.1" r="1.65" fill="none" stroke="#111" stroke-width="0.75"/>
<circle cx="392.1" cy="55.4" r="1.65" fill="none" stroke="#111" stroke-width="0.75"/>
<circle cx="396.5" cy="56.5" r="1.65" fill="none" stroke="#111" stroke-width="0.75"/>
<circle cx="403.1" cy="53.2" r="1.65" fill="none" stroke="#111" stroke-width="0.75"/>
<circle cx="397.8" cy="50.3" r="1.65" fill="none" stroke="#111" stroke-width="0.75"/>
<circle cx="401.8" cy="47.6" r="1.65" fill="none" stroke="#111" stroke-width="0.75"/>
<circle cx="405.1" cy="47.0" r="1.65" fill="none" stroke="#111" stroke-width="0.75"/>
<circle cx="387.2" cy="55.6" r="1.65" fill="none" stroke="#111" stroke-width="0.75"/>
<circle cx="390.5" cy="54.5" r="1.65" fill="none" stroke="#111" stroke-width="0.75"/>
<circle cx="395.8" cy="53.6" r="1.65" fill="none" stroke="#111" stroke-width="0.75"/>
<circle cx="383.9" cy="58.2" r="1.65" fill="none" stroke="#111" stroke-width="0.75"/>
<circle cx="389.9" cy="58.9" r="1.65" fill="none" stroke="#111" stroke-width="0.75"/>
<circle cx="397.8" cy="58.2" r="1.65" fill="none" stroke="#111" stroke-width="0.75"/>
<circle cx="389.9" cy="60.9" r="1.65" fill="none" stroke="#111" stroke-width="0.75"/>
<circle cx="397.8" cy="60.6" r="1.65" fill="none" stroke="#111" stroke-width="0.75"/>
<circle cx="385.9" cy="65.1" r="1.65" fill="none" stroke="#111" stroke-width="0.75"/>
<circle cx="394.5" cy="67.5" r="1.65" fill="none" stroke="#111" stroke-width="0.75"/>
<circle cx="397.2" cy="64.9" r="1.65" fill="none" stroke="#111" stroke-width="0.75"/>
<circle cx="400.5" cy="66.9" r="1.65" fill="none" stroke="#111" stroke-width="0.75"/>
<circle cx="401.8" cy="63.8" r="1.65" fill="none" stroke="#111" stroke-width="0.75"/>
<circle cx="410.0" cy="65.1" r="1.65" fill="none" stroke="#111" stroke-width="0.75"/>
<circle cx="383.2" cy="74.4" r="1.65" fill="none" stroke="#111" stroke-width="0.75"/>
<circle cx="381.3" cy="72.2" r="1.65" fill="none" stroke="#111" stroke-width="0.75"/>
<circle cx="389.6" cy="77.8" r="1.65" fill="none" stroke="#111" stroke-width="0.75"/>
<circle cx="395.8" cy="74.8" r="1.65" fill="none" stroke="#111" stroke-width="0.75"/>
<circle cx="396.5" cy="76.1" r="1.65" fill="none" stroke="#111" stroke-width="0.75"/>
<circle cx="403.1" cy="72.8" r="1.65" fill="none" stroke="#111" stroke-width="0.75"/>
<circle cx="405.8" cy="76.8" r="1.65" fill="none" stroke="#111" stroke-width="0.75"/>
<circle cx="401.8" cy="78.1" r="1.65" fill="none" stroke="#111" stroke-width="0.75"/>
<circle cx="399.1" cy="80.8" r="1.65" fill="none" stroke="#111" stroke-width="0.75"/>
<circle cx="412.1" cy="74.4" r="1.65" fill="none" stroke="#111" stroke-width="0.75"/>
<circle cx="384.3" cy="84.5" r="1.65" fill="none" stroke="#111" stroke-width="0.75"/>
<circle cx="391.9" cy="87.1" r="1.65" fill="none" stroke="#111" stroke-width="0.75"/>
<circle cx="396.5" cy="90.3" r="1.65" fill="none" stroke="#111" stroke-width="0.75"/>
<circle cx="403.8" cy="88.0" r="1.65" fill="none" stroke="#111" stroke-width="0.75"/>
<circle cx="387.0" cy="91.1" r="1.65" fill="none" stroke="#111" stroke-width="0.75"/>
<circle cx="389.2" cy="95.1" r="1.65" fill="none" stroke="#111" stroke-width="0.75"/>
<circle cx="387.2" cy="98.6" r="1.65" fill="none" stroke="#111" stroke-width="0.75"/>
<circle cx="402.5" cy="95.1" r="1.65" fill="none" stroke="#111" stroke-width="0.75"/>
<circle cx="403.9" cy="46.4" r="1.65" fill="none" stroke="#111" stroke-width="0.75"/>
<circle cx="398.6" cy="49.1" r="1.65" fill="none" stroke="#111" stroke-width="0.75"/>
<circle cx="449.0" cy="25.9" r="1.65" fill="none" stroke="#111" stroke-width="0.75"/>
<circle cx="405.0" cy="44.1" r="1.65" fill="none" stroke="#111" stroke-width="0.75"/>
<circle cx="386.9" cy="53.8" r="1.65" fill="none" stroke="#111" stroke-width="0.75"/>
<circle cx="387.4" cy="59.1" r="1.65" fill="none" stroke="#111" stroke-width="0.75"/>
<circle cx="390.9" cy="60.0" r="1.65" fill="none" stroke="#111" stroke-width="0.75"/>
<circle cx="397.1" cy="53.0" r="1.65" fill="none" stroke="#111" stroke-width="0.75"/>
<circle cx="401.5" cy="53.8" r="1.65" fill="none" stroke="#111" stroke-width="0.75"/>
<circle cx="402.4" cy="51.2" r="1.65" fill="none" stroke="#111" stroke-width="0.75"/>
<circle cx="399.5" cy="46.0" r="1.65" fill="none" stroke="#111" stroke-width="0.75"/>
<circle cx="396.4" cy="75.7" r="1.65" fill="none" stroke="#111" stroke-width="0.75"/>
<circle cx="395.1" cy="76.0" r="1.65" fill="none" stroke="#111" stroke-width="0.75"/>
<circle cx="404.6" cy="88.7" r="1.65" fill="none" stroke="#111" stroke-width="0.75"/>
<circle cx="395.6" cy="75.2" r="1.65" fill="none" stroke="#111" stroke-width="0.75"/>
<circle cx="277.1" cy="186.8" r="2.2" fill="#1010c8"/>
<circle cx="278.4" cy="179.4" r="1.95" fill="#da101c"/>
<circle cx="280.3" cy="180.0" r="1.95" fill="#da101c"/>
<circle cx="282.2" cy="175.6" r="1.95" fill="#da101c"/>
<circle cx="280.1" cy="174.5" r="1.95" fill="#da101c"/>
<circle cx="286.8" cy="172.4" r="1.95" fill="#da101c"/>
<circle cx="278.4" cy="166.8" r="1.95" fill="#da101c"/>
<circle cx="280.9" cy="165.5" r="1.95" fill="#da101c"/>
<circle cx="284.3" cy="168.2" r="1.95" fill="#da101c"/>
<circle cx="283.6" cy="164.0" r="1.95" fill="#da101c"/>
<circle cx="293.5" cy="165.5" r="1.95" fill="#da101c"/>
<circle cx="284.3" cy="157.7" r="1.95" fill="#da101c"/>
<circle cx="286.8" cy="151.4" r="1.95" fill="#da101c"/>
<circle cx="291.4" cy="158.4" r="1.95" fill="#da101c"/>
<circle cx="297.9" cy="159.8" r="1.95" fill="#da101c"/>
<circle cx="300.4" cy="155.2" r="1.95" fill="#da101c"/>
<circle cx="301.9" cy="153.1" r="1.95" fill="#da101c"/>
<circle cx="287.2" cy="138.8" r="1.95" fill="#da101c"/>
<circle cx="290.0" cy="128.3" r="1.95" fill="#da101c"/>
<circle cx="291.6" cy="127.7" r="1.95" fill="#da101c"/>
<circle cx="297.9" cy="126.9" r="1.95" fill="#da101c"/>
<circle cx="300.9" cy="133.6" r="1.95" fill="#da101c"/>
<circle cx="301.1" cy="119.5" r="1.95" fill="#da101c"/>
<circle cx="306.1" cy="115.7" r="1.95" fill="#da101c"/>
<circle cx="313.7" cy="106.3" r="1.95" fill="#da101c"/>
<circle cx="320.8" cy="112.0" r="1.95" fill="#da101c"/>
<circle cx="327.7" cy="112.0" r="1.95" fill="#da101c"/>
<circle cx="320.0" cy="125.6" r="1.95" fill="#da101c"/>
<circle cx="335.7" cy="126.7" r="1.95" fill="#da101c"/>
<circle cx="329.8" cy="102.1" r="1.95" fill="#da101c"/>
<circle cx="355.9" cy="107.1" r="1.95" fill="#da101c"/>
<circle cx="348.9" cy="108.8" r="1.95" fill="#da101c"/>
<circle cx="332.4" cy="102.1" r="1.95" fill="#da101c"/>
<circle cx="345.6" cy="100.4" r="1.95" fill="#da101c"/>
<circle cx="285.0" cy="164.2" r="1.95" fill="#da101c"/>
<circle cx="289.9" cy="130.2" r="1.95" fill="#da101c"/>
<circle cx="353.1" cy="57.3" r="1.95" fill="#da101c"/>
<circle cx="363.4" cy="63.0" r="1.95" fill="#da101c"/>
<circle cx="375.6" cy="65.3" r="1.95" fill="#da101c"/>
<circle cx="326.9" cy="76.2" r="1.95" fill="#da101c"/>
<circle cx="329.4" cy="79.0" r="1.95" fill="#da101c"/>
<circle cx="337.4" cy="71.6" r="1.95" fill="#da101c"/>
<circle cx="344.1" cy="77.3" r="1.95" fill="#da101c"/>
<circle cx="351.4" cy="81.9" r="1.95" fill="#da101c"/>
<circle cx="355.0" cy="79.8" r="1.95" fill="#da101c"/>
<circle cx="361.5" cy="74.8" r="1.95" fill="#da101c"/>
<circle cx="321.4" cy="93.7" r="1.95" fill="#da101c"/>
<circle cx="342.6" cy="93.0" r="1.95" fill="#da101c"/>
<circle cx="343.7" cy="95.1" r="1.95" fill="#da101c"/>
<path d="M277.30,186.00 C277.67,184.50 278.73,179.72 279.50,177.00 C280.27,174.28 281.07,172.37 281.90,169.70 C282.73,167.03 283.62,163.65 284.50,161.00 C285.38,158.35 286.20,155.72 287.20,153.80 C288.20,151.88 289.40,150.82 290.50,149.50 C291.60,148.18 292.47,147.73 293.80,145.90 C295.13,144.07 296.87,141.25 298.50,138.50 C300.13,135.75 302.02,131.98 303.60,129.40 C305.18,126.82 306.60,124.93 308.00,123.00 C309.40,121.07 310.67,119.63 312.00,117.80 C313.33,115.97 314.60,113.92 316.00,112.00 C317.40,110.08 319.05,107.78 320.40,106.30 C321.75,104.82 322.25,104.43 324.10,103.10 C325.95,101.77 328.52,100.33 331.50,98.30 C334.48,96.27 338.50,93.18 342.00,90.90 C345.50,88.62 349.83,86.33 352.50,84.60 C355.17,82.87 356.25,82.07 358.00,80.50 C359.75,78.93 361.50,76.95 363.00,75.20 C364.50,73.45 365.60,71.75 367.00,70.00 C368.40,68.25 370.07,66.17 371.40,64.70 C372.73,63.23 373.57,61.98 375.00,61.20 C376.43,60.42 378.07,60.12 380.00,60.00 C381.93,59.88 384.62,60.63 386.60,60.50 C388.58,60.37 390.47,60.08 391.90,59.20 C393.33,58.32 394.20,56.42 395.20,55.20 C396.20,53.98 397.10,52.85 397.90,51.90 C398.70,50.95 399.65,49.90 400.00,49.50" fill="none" stroke="#222" stroke-opacity="0.63" stroke-width="1.5" stroke-linejoin="round" stroke-linecap="round"/>
<line x1="270.5" y1="194.51" x2="457.3" y2="-11.90" stroke="#111" stroke-width="1.1" stroke-dasharray="4.1 4.1"/>
</g>
<clipPath id="cc"><rect x="498.5" y="8.0" width="186.0" height="185.5"/></clipPath>
<g clip-path="url(#cc)">
<circle cx="605.0" cy="51.9" r="1.65" fill="none" stroke="#111" stroke-width="0.75"/>
<circle cx="613.0" cy="60.5" r="1.65" fill="none" stroke="#111" stroke-width="0.75"/>
<circle cx="612.3" cy="62.5" r="1.65" fill="none" stroke="#111" stroke-width="0.75"/>
<circle cx="617.6" cy="64.9" r="1.65" fill="none" stroke="#111" stroke-width="0.75"/>
<circle cx="617.6" cy="69.4" r="1.65" fill="none" stroke="#111" stroke-width="0.75"/>
<circle cx="609.0" cy="74.8" r="1.65" fill="none" stroke="#111" stroke-width="0.75"/>
<circle cx="606.4" cy="85.0" r="1.65" fill="none" stroke="#111" stroke-width="0.75"/>
<circle cx="609.7" cy="83.7" r="1.65" fill="none" stroke="#111" stroke-width="0.75"/>
<circle cx="614.3" cy="82.4" r="1.65" fill="none" stroke="#111" stroke-width="0.75"/>
<circle cx="614.6" cy="85.3" r="1.65" fill="none" stroke="#111" stroke-width="0.75"/>
<circle cx="614.3" cy="99.3" r="1.65" fill="none" stroke="#111" stroke-width="0.75"/>
<circle cx="618.3" cy="98.3" r="1.65" fill="none" stroke="#111" stroke-width="0.75"/>
<circle cx="626.2" cy="14.6" r="1.65" fill="none" stroke="#111" stroke-width="0.75"/>
<circle cx="632.5" cy="17.0" r="1.65" fill="none" stroke="#111" stroke-width="0.75"/>
<circle cx="633.1" cy="18.6" r="1.65" fill="none" stroke="#111" stroke-width="0.75"/>
<circle cx="633.8" cy="21.0" r="1.65" fill="none" stroke="#111" stroke-width="0.75"/>
<circle cx="631.8" cy="21.9" r="1.65" fill="none" stroke="#111" stroke-width="0.75"/>
<circle cx="627.2" cy="20.8" r="1.65" fill="none" stroke="#111" stroke-width="0.75"/>
<circle cx="641.1" cy="20.8" r="1.65" fill="none" stroke="#111" stroke-width="0.75"/>
<circle cx="617.9" cy="21.9" r="1.65" fill="none" stroke="#111" stroke-width="0.75"/>
<circle cx="618.5" cy="25.0" r="1.65" fill="none" stroke="#111" stroke-width="0.75"/>
<circle cx="625.8" cy="24.8" r="1.65" fill="none" stroke="#111" stroke-width="0.75"/>
<circle cx="611.9" cy="29.9" r="1.65" fill="none" stroke="#111" stroke-width="0.75"/>
<circle cx="613.9" cy="30.8" r="1.65" fill="none" stroke="#111" stroke-width="0.75"/>
<circle cx="641.1" cy="51.7" r="1.65" fill="none" stroke="#111" stroke-width="0.75"/>
<circle cx="626.2" cy="54.8" r="1.65" fill="none" stroke="#111" stroke-width="0.75"/>
<circle cx="630.2" cy="55.7" r="1.65" fill="none" stroke="#111" stroke-width="0.75"/>
<circle cx="621.2" cy="58.1" r="1.65" fill="none" stroke="#111" stroke-width="0.75"/>
<circle cx="629.8" cy="58.7" r="1.65" fill="none" stroke="#111" stroke-width="0.75"/>
<circle cx="627.2" cy="61.6" r="1.65" fill="none" stroke="#111" stroke-width="0.75"/>
<circle cx="621.9" cy="66.0" r="1.65" fill="none" stroke="#111" stroke-width="0.75"/>
<circle cx="625.2" cy="64.3" r="1.65" fill="none" stroke="#111" stroke-width="0.75"/>
<circle cx="628.5" cy="65.0" r="1.65" fill="none" stroke="#111" stroke-width="0.75"/>
<circle cx="632.5" cy="64.3" r="1.65" fill="none" stroke="#111" stroke-width="0.75"/>
<circle cx="637.1" cy="66.5" r="1.65" fill="none" stroke="#111" stroke-width="0.75"/>
<circle cx="627.8" cy="63.2" r="1.65" fill="none" stroke="#111" stroke-width="0.75"/>
<circle cx="633.1" cy="66.9" r="1.65" fill="none" stroke="#111" stroke-width="0.75"/>
<circle cx="627.8" cy="67.6" r="1.65" fill="none" stroke="#111" stroke-width="0.75"/>
<circle cx="621.9" cy="69.8" r="1.65" fill="none" stroke="#111" stroke-width="0.75"/>
<circle cx="625.8" cy="72.6" r="1.65" fill="none" stroke="#111" stroke-width="0.75"/>
<circle cx="629.1" cy="72.9" r="1.65" fill="none" stroke="#111" stroke-width="0.75"/>
<circle cx="630.5" cy="72.2" r="1.65" fill="none" stroke="#111" stroke-width="0.75"/>
<circle cx="625.8" cy="78.2" r="1.65" fill="none" stroke="#111" stroke-width="0.75"/>
<circle cx="641.7" cy="76.5" r="1.65" fill="none" stroke="#111" stroke-width="0.75"/>
<circle cx="629.1" cy="97.1" r="1.65" fill="none" stroke="#111" stroke-width="0.75"/>
<circle cx="638.4" cy="103.7" r="1.65" fill="none" stroke="#111" stroke-width="0.75"/>
<circle cx="621.2" cy="114.6" r="1.65" fill="none" stroke="#111" stroke-width="0.75"/>
<circle cx="624.5" cy="113.9" r="1.65" fill="none" stroke="#111" stroke-width="0.75"/>
<circle cx="617.9" cy="118.2" r="1.65" fill="none" stroke="#111" stroke-width="0.75"/>
<circle cx="619.9" cy="115.9" r="1.65" fill="none" stroke="#111" stroke-width="0.75"/>
<circle cx="624.5" cy="115.9" r="1.65" fill="none" stroke="#111" stroke-width="0.75"/>
<circle cx="626.2" cy="117.6" r="1.65" fill="none" stroke="#111" stroke-width="0.75"/>
<circle cx="640.4" cy="119.6" r="1.65" fill="none" stroke="#111" stroke-width="0.75"/>
<circle cx="611.9" cy="129.1" r="1.65" fill="none" stroke="#111" stroke-width="0.75"/>
<circle cx="619.2" cy="129.8" r="1.65" fill="none" stroke="#111" stroke-width="0.75"/>
<circle cx="623.8" cy="128.8" r="1.65" fill="none" stroke="#111" stroke-width="0.75"/>
<circle cx="624.5" cy="130.8" r="1.65" fill="none" stroke="#111" stroke-width="0.75"/>
<circle cx="626.5" cy="130.4" r="1.65" fill="none" stroke="#111" stroke-width="0.75"/>
<circle cx="628.5" cy="129.5" r="1.65" fill="none" stroke="#111" stroke-width="0.75"/>
<circle cx="630.5" cy="130.2" r="1.65" fill="none" stroke="#111" stroke-width="0.75"/>
<circle cx="632.5" cy="131.5" r="1.65" fill="none" stroke="#111" stroke-width="0.75"/>
<circle cx="634.2" cy="133.9" r="1.65" fill="none" stroke="#111" stroke-width="0.75"/>
<circle cx="625.8" cy="133.5" r="1.65" fill="none" stroke="#111" stroke-width="0.75"/>
<circle cx="624.5" cy="132.8" r="1.65" fill="none" stroke="#111" stroke-width="0.75"/>
<circle cx="630.5" cy="134.4" r="1.65" fill="none" stroke="#111" stroke-width="0.75"/>
<circle cx="611.7" cy="137.1" r="1.65" fill="none" stroke="#111" stroke-width="0.75"/>
<circle cx="615.2" cy="138.8" r="1.65" fill="none" stroke="#111" stroke-width="0.75"/>
<circle cx="618.3" cy="139.2" r="1.65" fill="none" stroke="#111" stroke-width="0.75"/>
<circle cx="612.6" cy="140.8" r="1.65" fill="none" stroke="#111" stroke-width="0.75"/>
<circle cx="615.9" cy="143.4" r="1.65" fill="none" stroke="#111" stroke-width="0.75"/>
<circle cx="614.8" cy="146.1" r="1.65" fill="none" stroke="#111" stroke-width="0.75"/>
<circle cx="626.5" cy="139.2" r="1.65" fill="none" stroke="#111" stroke-width="0.75"/>
<circle cx="631.8" cy="137.8" r="1.65" fill="none" stroke="#111" stroke-width="0.75"/>
<circle cx="631.8" cy="140.8" r="1.65" fill="none" stroke="#111" stroke-width="0.75"/>
<circle cx="632.5" cy="139.2" r="1.65" fill="none" stroke="#111" stroke-width="0.75"/>
<circle cx="638.4" cy="141.4" r="1.65" fill="none" stroke="#111" stroke-width="0.75"/>
<circle cx="639.1" cy="140.1" r="1.65" fill="none" stroke="#111" stroke-width="0.75"/>
<circle cx="607.3" cy="137.8" r="1.65" fill="none" stroke="#111" stroke-width="0.75"/>
<circle cx="625.0" cy="129.5" r="1.65" fill="none" stroke="#111" stroke-width="0.75"/>
<circle cx="677.7" cy="80.7" r="1.65" fill="none" stroke="#111" stroke-width="0.75"/>
<circle cx="621.8" cy="58.6" r="1.65" fill="none" stroke="#111" stroke-width="0.75"/>
<circle cx="606.7" cy="85.7" r="1.65" fill="none" stroke="#111" stroke-width="0.75"/>
<circle cx="626.9" cy="139.7" r="1.65" fill="none" stroke="#111" stroke-width="0.75"/>
<circle cx="505.5" cy="186.8" r="2.2" fill="#1010c8"/>
<circle cx="557.7" cy="121.6" r="1.95" fill="#da101c"/>
<circle cx="549.6" cy="128.1" r="1.95" fill="#da101c"/>
<circle cx="548.3" cy="136.9" r="1.95" fill="#da101c"/>
<circle cx="549.6" cy="137.7" r="1.95" fill="#da101c"/>
<circle cx="560.6" cy="137.4" r="1.95" fill="#da101c"/>
<circle cx="556.4" cy="141.3" r="1.95" fill="#da101c"/>
<circle cx="529.5" cy="142.9" r="1.95" fill="#da101c"/>
<circle cx="526.2" cy="147.4" r="1.95" fill="#da101c"/>
<circle cx="541.9" cy="145.0" r="1.95" fill="#da101c"/>
<circle cx="529.5" cy="152.7" r="1.95" fill="#da101c"/>
<circle cx="534.8" cy="151.5" r="1.95" fill="#da101c"/>
<circle cx="564.1" cy="155.8" r="1.95" fill="#da101c"/>
<circle cx="518.6" cy="170.2" r="1.95" fill="#da101c"/>
<circle cx="520.0" cy="168.4" r="1.95" fill="#da101c"/>
<circle cx="529.9" cy="169.3" r="1.95" fill="#da101c"/>
<circle cx="528.8" cy="174.6" r="1.95" fill="#da101c"/>
<circle cx="526.6" cy="176.8" r="1.95" fill="#da101c"/>
<circle cx="512.8" cy="173.5" r="1.95" fill="#da101c"/>
<circle cx="514.9" cy="176.0" r="1.95" fill="#da101c"/>
<circle cx="519.7" cy="179.3" r="1.95" fill="#da101c"/>
<circle cx="521.9" cy="180.4" r="1.95" fill="#da101c"/>
<circle cx="509.5" cy="178.2" r="1.95" fill="#da101c"/>
<circle cx="511.3" cy="178.9" r="1.95" fill="#da101c"/>
<circle cx="513.1" cy="180.4" r="1.95" fill="#da101c"/>
<circle cx="515.3" cy="182.6" r="1.95" fill="#da101c"/>
<circle cx="507.7" cy="182.6" r="1.95" fill="#da101c"/>
<circle cx="509.5" cy="181.9" r="1.95" fill="#da101c"/>
<circle cx="506.6" cy="184.8" r="1.95" fill="#da101c"/>
<circle cx="510.9" cy="183.3" r="1.95" fill="#da101c"/>
<circle cx="558.3" cy="99.5" r="1.95" fill="#da101c"/>
<circle cx="589.9" cy="97.9" r="1.95" fill="#da101c"/>
<circle cx="581.5" cy="100.9" r="1.95" fill="#da101c"/>
<circle cx="583.7" cy="103.9" r="1.95" fill="#da101c"/>
<circle cx="580.0" cy="106.2" r="1.95" fill="#da101c"/>
<circle cx="555.6" cy="114.5" r="1.95" fill="#da101c"/>
<circle cx="565.8" cy="116.5" r="1.95" fill="#da101c"/>
<circle cx="570.9" cy="129.3" r="1.95" fill="#da101c"/>
<circle cx="573.8" cy="135.0" r="1.95" fill="#da101c"/>
<circle cx="577.4" cy="134.4" r="1.95" fill="#da101c"/>
<circle cx="584.4" cy="141.0" r="1.95" fill="#da101c"/>
<circle cx="591.8" cy="53.9" r="1.95" fill="#da101c"/>
<circle cx="572.6" cy="79.3" r="1.95" fill="#da101c"/>
<circle cx="604.2" cy="137.5" r="1.95" fill="#da101c"/>
<line x1="498.5" y1="192.16" x2="705.4" y2="28.50" stroke="#111" stroke-width="1.1" stroke-dasharray="4.1 4.1"/>
</g>
<clipPath id="cd"><rect x="36.5" y="240.5" width="186.0" height="185.5"/></clipPath>
<g clip-path="url(#cd)">
<rect x="42.3" y="345.5" width="14.90" height="79.10" fill="#7e7efa" stroke="#30308a" stroke-width="1.0"/>
<circle cx="215.6" cy="247.3" r="1.65" fill="none" stroke="#111" stroke-width="0.75"/>
<circle cx="152.8" cy="296.6" r="1.65" fill="none" stroke="#111" stroke-width="0.75"/>
<circle cx="143.5" cy="328.4" r="1.65" fill="none" stroke="#111" stroke-width="0.75"/>
<circle cx="144.9" cy="329.7" r="1.65" fill="none" stroke="#111" stroke-width="0.75"/>
<circle cx="147.5" cy="329.1" r="1.65" fill="none" stroke="#111" stroke-width="0.75"/>
<circle cx="144.2" cy="331.1" r="1.65" fill="none" stroke="#111" stroke-width="0.75"/>
<circle cx="142.9" cy="317.2" r="1.65" fill="none" stroke="#111" stroke-width="0.75"/>
<circle cx="146.9" cy="313.8" r="1.65" fill="none" stroke="#111" stroke-width="0.75"/>
<circle cx="150.2" cy="306.6" r="1.65" fill="none" stroke="#111" stroke-width="0.75"/>
<circle cx="152.8" cy="305.2" r="1.65" fill="none" stroke="#111" stroke-width="0.75"/>
<circle cx="150.2" cy="315.2" r="1.65" fill="none" stroke="#111" stroke-width="0.75"/>
<circle cx="152.8" cy="316.5" r="1.65" fill="none" stroke="#111" stroke-width="0.75"/>
<circle cx="149.5" cy="319.1" r="1.65" fill="none" stroke="#111" stroke-width="0.75"/>
<circle cx="150.8" cy="321.8" r="1.65" fill="none" stroke="#111" stroke-width="0.75"/>
<circle cx="153.5" cy="320.5" r="1.65" fill="none" stroke="#111" stroke-width="0.75"/>
<circle cx="156.1" cy="317.8" r="1.65" fill="none" stroke="#111" stroke-width="0.75"/>
<circle cx="159.4" cy="315.2" r="1.65" fill="none" stroke="#111" stroke-width="0.75"/>
<circle cx="156.8" cy="311.2" r="1.65" fill="none" stroke="#111" stroke-width="0.75"/>
<circle cx="160.1" cy="311.2" r="1.65" fill="none" stroke="#111" stroke-width="0.75"/>
<circle cx="164.1" cy="310.5" r="1.65" fill="none" stroke="#111" stroke-width="0.75"/>
<circle cx="169.4" cy="309.6" r="1.65" fill="none" stroke="#111" stroke-width="0.75"/>
<circle cx="156.1" cy="307.2" r="1.65" fill="none" stroke="#111" stroke-width="0.75"/>
<circle cx="158.1" cy="302.6" r="1.65" fill="none" stroke="#111" stroke-width="0.75"/>
<circle cx="161.4" cy="300.6" r="1.65" fill="none" stroke="#111" stroke-width="0.75"/>
<circle cx="164.7" cy="303.2" r="1.65" fill="none" stroke="#111" stroke-width="0.75"/>
<circle cx="167.4" cy="305.9" r="1.65" fill="none" stroke="#111" stroke-width="0.75"/>
<circle cx="170.7" cy="303.2" r="1.65" fill="none" stroke="#111" stroke-width="0.75"/>
<circle cx="162.7" cy="296.6" r="1.65" fill="none" stroke="#111" stroke-width="0.75"/>
<circle cx="164.7" cy="292.6" r="1.65" fill="none" stroke="#111" stroke-width="0.75"/>
<circle cx="170.0" cy="294.0" r="1.65" fill="none" stroke="#111" stroke-width="0.75"/>
<circle cx="170.0" cy="291.3" r="1.65" fill="none" stroke="#111" stroke-width="0.75"/>
<circle cx="176.0" cy="292.6" r="1.65" fill="none" stroke="#111" stroke-width="0.75"/>
<circle cx="179.3" cy="291.3" r="1.65" fill="none" stroke="#111" stroke-width="0.75"/>
<circle cx="166.1" cy="298.6" r="1.65" fill="none" stroke="#111" stroke-width="0.75"/>
<circle cx="168.7" cy="299.9" r="1.65" fill="none" stroke="#111" stroke-width="0.75"/>
<circle cx="162.1" cy="305.9" r="1.65" fill="none" stroke="#111" stroke-width="0.75"/>
<circle cx="154.1" cy="313.8" r="1.65" fill="none" stroke="#111" stroke-width="0.75"/>
<circle cx="152.9" cy="255.3" r="1.65" fill="none" stroke="#111" stroke-width="0.75"/>
<circle cx="155.3" cy="274.4" r="1.65" fill="none" stroke="#111" stroke-width="0.75"/>
<circle cx="168.9" cy="273.5" r="1.65" fill="none" stroke="#111" stroke-width="0.75"/>
<circle cx="175.8" cy="274.8" r="1.65" fill="none" stroke="#111" stroke-width="0.75"/>
<circle cx="178.5" cy="276.8" r="1.65" fill="none" stroke="#111" stroke-width="0.75"/>
<circle cx="171.9" cy="278.8" r="1.65" fill="none" stroke="#111" stroke-width="0.75"/>
<circle cx="167.6" cy="284.5" r="1.65" fill="none" stroke="#111" stroke-width="0.75"/>
<circle cx="170.5" cy="285.8" r="1.65" fill="none" stroke="#111" stroke-width="0.75"/>
<circle cx="176.5" cy="286.7" r="1.65" fill="none" stroke="#111" stroke-width="0.75"/>
<circle cx="179.4" cy="287.1" r="1.65" fill="none" stroke="#111" stroke-width="0.75"/>
<circle cx="178.5" cy="290.0" r="1.65" fill="none" stroke="#111" stroke-width="0.75"/>
<circle cx="161.9" cy="289.4" r="1.65" fill="none" stroke="#111" stroke-width="0.75"/>
<circle cx="163.9" cy="288.7" r="1.65" fill="none" stroke="#111" stroke-width="0.75"/>
<circle cx="163.2" cy="292.0" r="1.65" fill="none" stroke="#111" stroke-width="0.75"/>
<circle cx="169.9" cy="290.0" r="1.65" fill="none" stroke="#111" stroke-width="0.75"/>
<circle cx="169.2" cy="292.7" r="1.65" fill="none" stroke="#111" stroke-width="0.75"/>
<circle cx="169.9" cy="296.0" r="1.65" fill="none" stroke="#111" stroke-width="0.75"/>
<circle cx="165.2" cy="294.7" r="1.65" fill="none" stroke="#111" stroke-width="0.75"/>
<circle cx="163.2" cy="298.0" r="1.65" fill="none" stroke="#111" stroke-width="0.75"/>
<circle cx="169.9" cy="301.3" r="1.65" fill="none" stroke="#111" stroke-width="0.75"/>
<circle cx="161.3" cy="303.3" r="1.65" fill="none" stroke="#111" stroke-width="0.75"/>
<circle cx="167.2" cy="303.3" r="1.65" fill="none" stroke="#111" stroke-width="0.75"/>
<circle cx="154.0" cy="303.9" r="1.65" fill="none" stroke="#111" stroke-width="0.75"/>
<circle cx="174.8" cy="288.8" r="1.65" fill="none" stroke="#111" stroke-width="0.75"/>
<circle cx="177.0" cy="289.9" r="1.65" fill="none" stroke="#111" stroke-width="0.75"/>
<circle cx="164.9" cy="297.7" r="1.65" fill="none" stroke="#111" stroke-width="0.75"/>
<circle cx="163.2" cy="302.1" r="1.65" fill="none" stroke="#111" stroke-width="0.75"/>
<circle cx="168.8" cy="304.3" r="1.65" fill="none" stroke="#111" stroke-width="0.75"/>
<circle cx="164.3" cy="304.8" r="1.65" fill="none" stroke="#111" stroke-width="0.75"/>
<circle cx="157.7" cy="304.8" r="1.65" fill="none" stroke="#111" stroke-width="0.75"/>
<circle cx="154.4" cy="305.4" r="1.65" fill="none" stroke="#111" stroke-width="0.75"/>
<circle cx="152.2" cy="306.5" r="1.65" fill="none" stroke="#111" stroke-width="0.75"/>
<circle cx="166.6" cy="307.0" r="1.65" fill="none" stroke="#111" stroke-width="0.75"/>
<circle cx="156.6" cy="315.3" r="1.65" fill="none" stroke="#111" stroke-width="0.75"/>
<circle cx="154.4" cy="318.6" r="1.65" fill="none" stroke="#111" stroke-width="0.75"/>
<circle cx="160.5" cy="307.5" r="1.65" fill="none" stroke="#111" stroke-width="0.75"/>
<circle cx="158.0" cy="308.0" r="1.65" fill="none" stroke="#111" stroke-width="0.75"/>
<circle cx="166.0" cy="301.0" r="1.65" fill="none" stroke="#111" stroke-width="0.75"/>
<circle cx="160.0" cy="304.0" r="1.65" fill="none" stroke="#111" stroke-width="0.75"/>
<circle cx="43.3" cy="301.5" r="2.2" fill="#1010c8"/>
<circle cx="45.4" cy="352.4" r="1.95" fill="#da101c"/>
<circle cx="50.1" cy="356.2" r="1.95" fill="#da101c"/>
<circle cx="44.8" cy="358.4" r="1.95" fill="#da101c"/>
<circle cx="46.5" cy="362.8" r="1.95" fill="#da101c"/>
<circle cx="43.9" cy="367.0" r="1.95" fill="#da101c"/>
<circle cx="57.9" cy="365.9" r="1.95" fill="#da101c"/>
<circle cx="44.6" cy="372.0" r="1.95" fill="#da101c"/>
<circle cx="49.0" cy="372.0" r="1.95" fill="#da101c"/>
<circle cx="85.1" cy="346.4" r="1.95" fill="#da101c"/>
<circle cx="47.9" cy="393.5" r="1.95" fill="#da101c"/>
<circle cx="50.3" cy="399.8" r="1.95" fill="#da101c"/>
<circle cx="50.9" cy="401.5" r="1.95" fill="#da101c"/>
<circle cx="47.0" cy="408.1" r="1.95" fill="#da101c"/>
<circle cx="52.6" cy="407.0" r="1.95" fill="#da101c"/>
<circle cx="53.7" cy="408.7" r="1.95" fill="#da101c"/>
<circle cx="57.5" cy="410.1" r="1.95" fill="#da101c"/>
<circle cx="47.0" cy="412.0" r="1.95" fill="#da101c"/>
<circle cx="49.2" cy="413.1" r="1.95" fill="#da101c"/>
<circle cx="52.0" cy="415.3" r="1.95" fill="#da101c"/>
<circle cx="50.9" cy="417.0" r="1.95" fill="#da101c"/>
<circle cx="55.9" cy="419.2" r="1.95" fill="#da101c"/>
<circle cx="59.4" cy="386.4" r="1.95" fill="#da101c"/>
<circle cx="66.7" cy="388.8" r="1.95" fill="#da101c"/>
<circle cx="64.5" cy="391.6" r="1.95" fill="#da101c"/>
<circle cx="67.5" cy="392.7" r="1.95" fill="#da101c"/>
<circle cx="65.8" cy="395.4" r="1.95" fill="#da101c"/>
<circle cx="68.0" cy="398.2" r="1.95" fill="#da101c"/>
<circle cx="72.4" cy="398.5" r="1.95" fill="#da101c"/>
<circle cx="79.9" cy="396.5" r="1.95" fill="#da101c"/>
<circle cx="85.7" cy="389.3" r="1.95" fill="#da101c"/>
<circle cx="109.8" cy="333.1" r="1.95" fill="#da101c"/>
<circle cx="102.1" cy="345.8" r="1.95" fill="#da101c"/>
<circle cx="122.0" cy="342.4" r="1.95" fill="#da101c"/>
<circle cx="129.8" cy="341.1" r="1.95" fill="#da101c"/>
<circle cx="121.4" cy="353.5" r="1.95" fill="#da101c"/>
<circle cx="115.2" cy="355.2" r="1.95" fill="#da101c"/>
<circle cx="110.9" cy="358.1" r="1.95" fill="#da101c"/>
<circle cx="95.9" cy="359.1" r="1.95" fill="#da101c"/>
<circle cx="117.9" cy="362.5" r="1.95" fill="#da101c"/>
<circle cx="119.4" cy="362.0" r="1.95" fill="#da101c"/>
<circle cx="108.6" cy="373.7" r="1.95" fill="#da101c"/>
<circle cx="103.5" cy="377.4" r="1.95" fill="#da101c"/>
<circle cx="98.2" cy="381.0" r="1.95" fill="#da101c"/>
<circle cx="93.1" cy="378.4" r="1.95" fill="#da101c"/>
<circle cx="87.4" cy="378.7" r="1.95" fill="#da101c"/>
<circle cx="94.2" cy="385.3" r="1.95" fill="#da101c"/>
<circle cx="95.5" cy="388.4" r="1.95" fill="#da101c"/>
<circle cx="87.0" cy="388.7" r="1.95" fill="#da101c"/>
<circle cx="142.0" cy="297.7" r="1.95" fill="#da101c"/>
<circle cx="127.9" cy="320.2" r="1.95" fill="#da101c"/>
<path d="M43.30,318.70 C43.47,321.42 43.95,330.63 44.30,335.00 C44.65,339.37 45.03,341.22 45.40,344.90 C45.77,348.58 46.05,352.68 46.50,357.10 C46.95,361.52 47.60,366.75 48.10,371.40 C48.60,376.05 49.03,381.45 49.50,385.00 C49.97,388.55 50.40,390.37 50.90,392.70 C51.40,395.03 52.03,397.17 52.50,399.00 C52.97,400.83 53.13,402.37 53.70,403.70 C54.27,405.03 55.18,407.20 55.90,407.00 C56.62,406.80 57.27,403.88 58.00,402.50 C58.73,401.12 59.47,399.78 60.30,398.70 C61.13,397.62 61.53,397.00 63.00,396.00 C64.47,395.00 66.93,393.90 69.10,392.70 C71.27,391.50 73.65,390.28 76.00,388.80 C78.35,387.32 80.87,385.27 83.20,383.80 C85.53,382.33 87.78,381.40 90.00,380.00 C92.22,378.60 94.33,377.23 96.50,375.40 C98.67,373.57 100.80,371.22 103.00,369.00 C105.20,366.78 107.45,364.35 109.70,362.10 C111.95,359.85 114.28,357.80 116.50,355.50 C118.72,353.20 121.00,350.72 123.00,348.30 C125.00,345.88 126.73,343.55 128.50,341.00 C130.27,338.45 132.02,335.42 133.60,333.00 C135.18,330.58 136.47,328.72 138.00,326.50 C139.53,324.28 141.30,321.78 142.80,319.70 C144.30,317.62 145.55,315.87 147.00,314.00 C148.45,312.13 149.90,310.12 151.50,308.50 C153.10,306.88 155.02,305.38 156.60,304.30 C158.18,303.22 159.77,302.58 161.00,302.00 C162.23,301.42 163.50,301.00 164.00,300.80" fill="none" stroke="#222" stroke-opacity="0.63" stroke-width="1.5" stroke-linejoin="round" stroke-linecap="round"/>
</g>
<clipPath id="ce"><rect x="270.5" y="240.5" width="185.89999999999998" height="185.5"/></clipPath>
<g clip-path="url(#ce)">
<rect x="276.2" y="262.3" width="14.70" height="78.30" fill="#7e7efa" stroke="#30308a" stroke-width="1.0"/>
<circle cx="378.0" cy="295.6" r="1.65" fill="none" stroke="#111" stroke-width="0.75"/>
<circle cx="378.6" cy="300.9" r="1.65" fill="none" stroke="#111" stroke-width="0.75"/>
<circle cx="376.7" cy="312.8" r="1.65" fill="none" stroke="#111" stroke-width="0.75"/>
<circle cx="378.0" cy="334.0" r="1.65" fill="none" stroke="#111" stroke-width="0.75"/>
<circle cx="383.3" cy="316.1" r="1.65" fill="none" stroke="#111" stroke-width="0.75"/>
<circle cx="383.3" cy="320.1" r="1.65" fill="none" stroke="#111" stroke-width="0.75"/>
<circle cx="393.2" cy="279.5" r="1.65" fill="none" stroke="#111" stroke-width="0.75"/>
<circle cx="399.8" cy="282.6" r="1.65" fill="none" stroke="#111" stroke-width="0.75"/>
<circle cx="404.4" cy="286.6" r="1.65" fill="none" stroke="#111" stroke-width="0.75"/>
<circle cx="397.8" cy="288.9" r="1.65" fill="none" stroke="#111" stroke-width="0.75"/>
<circle cx="397.8" cy="290.5" r="1.65" fill="none" stroke="#111" stroke-width="0.75"/>
<circle cx="383.9" cy="291.9" r="1.65" fill="none" stroke="#111" stroke-width="0.75"/>
<circle cx="385.9" cy="294.1" r="1.65" fill="none" stroke="#111" stroke-width="0.75"/>
<circle cx="381.3" cy="295.8" r="1.65" fill="none" stroke="#111" stroke-width="0.75"/>
<circle cx="385.9" cy="301.8" r="1.65" fill="none" stroke="#111" stroke-width="0.75"/>
<circle cx="389.2" cy="301.1" r="1.65" fill="none" stroke="#111" stroke-width="0.75"/>
<circle cx="389.6" cy="303.1" r="1.65" fill="none" stroke="#111" stroke-width="0.75"/>
<circle cx="393.2" cy="298.9" r="1.65" fill="none" stroke="#111" stroke-width="0.75"/>
<circle cx="397.2" cy="297.8" r="1.65" fill="none" stroke="#111" stroke-width="0.75"/>
<circle cx="392.8" cy="307.7" r="1.65" fill="none" stroke="#111" stroke-width="0.75"/>
<circle cx="401.1" cy="311.1" r="1.65" fill="none" stroke="#111" stroke-width="0.75"/>
<circle cx="412.6" cy="313.4" r="1.65" fill="none" stroke="#111" stroke-width="0.75"/>
<circle cx="387.0" cy="314.0" r="1.65" fill="none" stroke="#111" stroke-width="0.75"/>
<circle cx="381.3" cy="315.7" r="1.65" fill="none" stroke="#111" stroke-width="0.75"/>
<circle cx="384.6" cy="319.0" r="1.65" fill="none" stroke="#111" stroke-width="0.75"/>
<circle cx="387.2" cy="319.3" r="1.65" fill="none" stroke="#111" stroke-width="0.75"/>
<circle cx="389.2" cy="319.3" r="1.65" fill="none" stroke="#111" stroke-width="0.75"/>
<circle cx="383.5" cy="321.5" r="1.65" fill="none" stroke="#111" stroke-width="0.75"/>
<circle cx="398.5" cy="318.3" r="1.65" fill="none" stroke="#111" stroke-width="0.75"/>
<circle cx="401.8" cy="322.1" r="1.65" fill="none" stroke="#111" stroke-width="0.75"/>
<circle cx="397.8" cy="325.0" r="1.65" fill="none" stroke="#111" stroke-width="0.75"/>
<circle cx="390.5" cy="328.3" r="1.65" fill="none" stroke="#111" stroke-width="0.75"/>
<circle cx="393.8" cy="328.3" r="1.65" fill="none" stroke="#111" stroke-width="0.75"/>
<circle cx="412.6" cy="326.7" r="1.65" fill="none" stroke="#111" stroke-width="0.75"/>
<circle cx="396.5" cy="331.9" r="1.65" fill="none" stroke="#111" stroke-width="0.75"/>
<circle cx="399.1" cy="331.7" r="1.65" fill="none" stroke="#111" stroke-width="0.75"/>
<circle cx="401.8" cy="331.9" r="1.65" fill="none" stroke="#111" stroke-width="0.75"/>
<circle cx="385.9" cy="336.6" r="1.65" fill="none" stroke="#111" stroke-width="0.75"/>
<circle cx="389.9" cy="334.6" r="1.65" fill="none" stroke="#111" stroke-width="0.75"/>
<circle cx="389.9" cy="337.2" r="1.65" fill="none" stroke="#111" stroke-width="0.75"/>
<circle cx="395.8" cy="334.8" r="1.65" fill="none" stroke="#111" stroke-width="0.75"/>
<circle cx="397.8" cy="335.9" r="1.65" fill="none" stroke="#111" stroke-width="0.75"/>
<circle cx="399.8" cy="336.6" r="1.65" fill="none" stroke="#111" stroke-width="0.75"/>
<circle cx="401.8" cy="336.6" r="1.65" fill="none" stroke="#111" stroke-width="0.75"/>
<circle cx="404.4" cy="337.5" r="1.65" fill="none" stroke="#111" stroke-width="0.75"/>
<circle cx="397.2" cy="338.5" r="1.65" fill="none" stroke="#111" stroke-width="0.75"/>
<circle cx="399.1" cy="339.2" r="1.65" fill="none" stroke="#111" stroke-width="0.75"/>
<circle cx="403.8" cy="340.5" r="1.65" fill="none" stroke="#111" stroke-width="0.75"/>
<circle cx="403.8" cy="343.2" r="1.65" fill="none" stroke="#111" stroke-width="0.75"/>
<circle cx="410.4" cy="343.6" r="1.65" fill="none" stroke="#111" stroke-width="0.75"/>
<circle cx="413.0" cy="347.2" r="1.65" fill="none" stroke="#111" stroke-width="0.75"/>
<circle cx="383.2" cy="347.8" r="1.65" fill="none" stroke="#111" stroke-width="0.75"/>
<circle cx="397.2" cy="348.5" r="1.65" fill="none" stroke="#111" stroke-width="0.75"/>
<circle cx="398.5" cy="347.2" r="1.65" fill="none" stroke="#111" stroke-width="0.75"/>
<circle cx="403.1" cy="349.4" r="1.65" fill="none" stroke="#111" stroke-width="0.75"/>
<circle cx="405.8" cy="347.5" r="1.65" fill="none" stroke="#111" stroke-width="0.75"/>
<circle cx="408.4" cy="349.1" r="1.65" fill="none" stroke="#111" stroke-width="0.75"/>
<circle cx="409.7" cy="356.0" r="1.65" fill="none" stroke="#111" stroke-width="0.75"/>
<circle cx="394.5" cy="357.1" r="1.65" fill="none" stroke="#111" stroke-width="0.75"/>
<circle cx="397.2" cy="358.1" r="1.65" fill="none" stroke="#111" stroke-width="0.75"/>
<circle cx="401.8" cy="363.7" r="1.65" fill="none" stroke="#111" stroke-width="0.75"/>
<circle cx="399.8" cy="367.0" r="1.65" fill="none" stroke="#111" stroke-width="0.75"/>
<circle cx="389.6" cy="366.1" r="1.65" fill="none" stroke="#111" stroke-width="0.75"/>
<circle cx="383.9" cy="367.0" r="1.65" fill="none" stroke="#111" stroke-width="0.75"/>
<circle cx="395.8" cy="372.3" r="1.65" fill="none" stroke="#111" stroke-width="0.75"/>
<circle cx="396.5" cy="373.6" r="1.65" fill="none" stroke="#111" stroke-width="0.75"/>
<circle cx="395.2" cy="377.0" r="1.65" fill="none" stroke="#111" stroke-width="0.75"/>
<circle cx="397.8" cy="377.2" r="1.65" fill="none" stroke="#111" stroke-width="0.75"/>
<circle cx="386.6" cy="382.6" r="1.65" fill="none" stroke="#111" stroke-width="0.75"/>
<circle cx="391.9" cy="385.6" r="1.65" fill="none" stroke="#111" stroke-width="0.75"/>
<circle cx="403.1" cy="382.8" r="1.65" fill="none" stroke="#111" stroke-width="0.75"/>
<circle cx="410.0" cy="381.9" r="1.65" fill="none" stroke="#111" stroke-width="0.75"/>
<circle cx="401.5" cy="387.5" r="1.65" fill="none" stroke="#111" stroke-width="0.75"/>
<circle cx="398.9" cy="389.2" r="1.65" fill="none" stroke="#111" stroke-width="0.75"/>
<circle cx="405.5" cy="393.2" r="1.65" fill="none" stroke="#111" stroke-width="0.75"/>
<circle cx="389.2" cy="394.1" r="1.65" fill="none" stroke="#111" stroke-width="0.75"/>
<circle cx="387.2" cy="396.9" r="1.65" fill="none" stroke="#111" stroke-width="0.75"/>
<circle cx="396.5" cy="399.5" r="1.65" fill="none" stroke="#111" stroke-width="0.75"/>
<circle cx="412.1" cy="401.1" r="1.65" fill="none" stroke="#111" stroke-width="0.75"/>
<circle cx="403.1" cy="408.1" r="1.65" fill="none" stroke="#111" stroke-width="0.75"/>
<circle cx="404.7" cy="412.0" r="1.65" fill="none" stroke="#111" stroke-width="0.75"/>
<circle cx="402.7" cy="419.0" r="1.65" fill="none" stroke="#111" stroke-width="0.75"/>
<circle cx="449.2" cy="388.9" r="1.65" fill="none" stroke="#111" stroke-width="0.75"/>
<circle cx="277.3" cy="340.8" r="2.2" fill="#1010c8"/>
<circle cx="289.6" cy="266.7" r="1.95" fill="#da101c"/>
<circle cx="291.5" cy="268.2" r="1.95" fill="#da101c"/>
<circle cx="287.2" cy="278.6" r="1.95" fill="#da101c"/>
<circle cx="301.1" cy="271.6" r="1.95" fill="#da101c"/>
<circle cx="306.4" cy="275.3" r="1.95" fill="#da101c"/>
<circle cx="313.7" cy="272.9" r="1.95" fill="#da101c"/>
<circle cx="321.7" cy="265.6" r="1.95" fill="#da101c"/>
<circle cx="328.9" cy="255.7" r="1.95" fill="#da101c"/>
<circle cx="298.1" cy="278.8" r="1.95" fill="#da101c"/>
<circle cx="301.1" cy="295.1" r="1.95" fill="#da101c"/>
<circle cx="321.0" cy="295.4" r="1.95" fill="#da101c"/>
<circle cx="328.9" cy="295.7" r="1.95" fill="#da101c"/>
<circle cx="287.0" cy="299.1" r="1.95" fill="#da101c"/>
<circle cx="284.3" cy="304.4" r="1.95" fill="#da101c"/>
<circle cx="284.6" cy="306.0" r="1.95" fill="#da101c"/>
<circle cx="278.6" cy="309.3" r="1.95" fill="#da101c"/>
<circle cx="281.3" cy="311.3" r="1.95" fill="#da101c"/>
<circle cx="328.0" cy="308.9" r="1.95" fill="#da101c"/>
<circle cx="284.8" cy="316.6" r="1.95" fill="#da101c"/>
<circle cx="282.6" cy="319.9" r="1.95" fill="#da101c"/>
<circle cx="284.3" cy="323.2" r="1.95" fill="#da101c"/>
<circle cx="291.9" cy="320.1" r="1.95" fill="#da101c"/>
<circle cx="279.3" cy="325.8" r="1.95" fill="#da101c"/>
<circle cx="277.3" cy="329.8" r="1.95" fill="#da101c"/>
<circle cx="280.6" cy="332.5" r="1.95" fill="#da101c"/>
<circle cx="282.2" cy="333.8" r="1.95" fill="#da101c"/>
<circle cx="279.9" cy="335.1" r="1.95" fill="#da101c"/>
<circle cx="286.6" cy="334.2" r="1.95" fill="#da101c"/>
<circle cx="293.6" cy="335.1" r="1.95" fill="#da101c"/>
<circle cx="298.1" cy="333.8" r="1.95" fill="#da101c"/>
<circle cx="300.5" cy="331.1" r="1.95" fill="#da101c"/>
<circle cx="302.1" cy="329.8" r="1.95" fill="#da101c"/>
<circle cx="319.7" cy="316.6" r="1.95" fill="#da101c"/>
<circle cx="327.3" cy="247.3" r="1.95" fill="#da101c"/>
<circle cx="337.5" cy="258.5" r="1.95" fill="#da101c"/>
<circle cx="353.1" cy="263.2" r="1.95" fill="#da101c"/>
<circle cx="344.1" cy="280.1" r="1.95" fill="#da101c"/>
<circle cx="363.7" cy="292.3" r="1.95" fill="#da101c"/>
<circle cx="332.2" cy="298.3" r="1.95" fill="#da101c"/>
<circle cx="342.2" cy="303.3" r="1.95" fill="#da101c"/>
<circle cx="351.9" cy="302.5" r="1.95" fill="#da101c"/>
<circle cx="355.5" cy="305.1" r="1.95" fill="#da101c"/>
<circle cx="361.4" cy="308.2" r="1.95" fill="#da101c"/>
<circle cx="343.8" cy="309.2" r="1.95" fill="#da101c"/>
<circle cx="345.3" cy="320.4" r="1.95" fill="#da101c"/>
<circle cx="376.0" cy="318.8" r="1.95" fill="#da101c"/>
<circle cx="348.9" cy="341.9" r="1.95" fill="#da101c"/>
<circle cx="335.9" cy="348.5" r="1.95" fill="#da101c"/>
<circle cx="356.0" cy="352.5" r="1.95" fill="#da101c"/>
<path d="M277.30,339.70 C277.40,338.60 277.58,335.05 277.90,333.10 C278.22,331.15 278.75,329.55 279.20,328.00 C279.65,326.45 280.05,325.63 280.60,323.80 C281.15,321.97 281.77,319.63 282.50,317.00 C283.23,314.37 284.17,309.90 285.00,308.00 C285.83,306.10 286.62,306.25 287.50,305.60 C288.38,304.95 289.38,304.47 290.30,304.10 C291.22,303.73 291.98,303.60 293.00,303.40 C294.02,303.20 294.82,303.67 296.40,302.90 C297.98,302.13 300.32,300.28 302.50,298.80 C304.68,297.32 307.17,295.45 309.50,294.00 C311.83,292.55 314.75,290.97 316.50,290.10 C318.25,289.23 318.83,289.13 320.00,288.80 C321.17,288.47 322.18,288.10 323.50,288.10 C324.82,288.10 326.43,288.25 327.90,288.80 C329.37,289.35 330.70,290.38 332.30,291.40 C333.90,292.42 336.13,293.75 337.50,294.90 C338.87,296.05 338.98,296.68 340.50,298.30 C342.02,299.92 344.48,302.90 346.60,304.60 C348.72,306.30 350.98,307.67 353.20,308.50 C355.42,309.33 358.27,309.58 359.90,309.60 C361.53,309.62 361.90,309.03 363.00,308.60 C364.10,308.17 365.03,307.27 366.50,307.00 C367.97,306.73 370.25,306.52 371.80,307.00 C373.35,307.48 374.70,308.77 375.80,309.90 C376.90,311.03 377.63,312.28 378.40,313.80 C379.17,315.32 379.73,317.23 380.40,319.00 C381.07,320.77 381.40,321.95 382.40,324.40 C383.40,326.85 385.08,331.70 386.40,333.70 C387.72,335.70 389.10,335.30 390.30,336.40 C391.50,337.50 392.72,338.98 393.60,340.30 C394.48,341.62 395.27,343.63 395.60,344.30" fill="none" stroke="#222" stroke-opacity="0.63" stroke-width="1.5" stroke-linejoin="round" stroke-linecap="round"/>
</g>
<clipPath id="cf"><rect x="498.5" y="240.5" width="186.0" height="185.5"/></clipPath>
<g clip-path="url(#cf)">
<line x1="498.6" y1="327.5" x2="684.3" y2="418.6" stroke="#111" stroke-width="1.3"/>
<circle cx="505.4" cy="247.1" r="1.85" fill="#da101c"/>
<circle cx="530.7" cy="277.5" r="1.85" fill="#da101c"/>
<circle cx="538.7" cy="329.8" r="1.85" fill="#da101c"/>
<circle cx="556.0" cy="342.0" r="1.85" fill="#da101c"/>
<circle cx="510.5" cy="349.1" r="1.85" fill="#da101c"/>
<circle cx="521.7" cy="347.4" r="1.85" fill="#da101c"/>
<circle cx="524.1" cy="359.8" r="1.85" fill="#da101c"/>
<circle cx="533.9" cy="363.2" r="1.85" fill="#da101c"/>
<circle cx="550.1" cy="372.7" r="1.85" fill="#da101c"/>
<circle cx="571.0" cy="364.2" r="1.85" fill="#da101c"/>
<circle cx="572.5" cy="381.2" r="1.85" fill="#da101c"/>
<circle cx="514.4" cy="416.6" r="1.85" fill="#da101c"/>
<circle cx="627.1" cy="355.5" r="1.85" fill="#da101c"/>
<circle cx="668.5" cy="388.7" r="1.85" fill="#da101c"/>
<circle cx="662.3" cy="395.6" r="1.85" fill="#da101c"/>
<circle cx="640.8" cy="404.4" r="1.85" fill="#da101c"/>
<circle cx="628.1" cy="412.9" r="1.85" fill="#da101c"/>
<circle cx="641.1" cy="411.4" r="1.85" fill="#da101c"/>
<circle cx="651.1" cy="419.3" r="1.85" fill="#da101c"/>
<circle cx="662.3" cy="415.6" r="1.85" fill="#da101c"/>
<circle cx="677.8" cy="411.4" r="1.85" fill="#da101c"/>
</g>
<text x="627.0" y="257.4" font-size="8.2"><tspan font-style="italic">R</tspan><tspan font-size="5.4" dy="-4.3">2</tspan><tspan dy="4.3"> =0.44</tspan></text>
<text x="626.4" y="268.1" font-size="8.0"><tspan font-style="italic">p</tspan> = 0.001</text>
</svg></body></html>
